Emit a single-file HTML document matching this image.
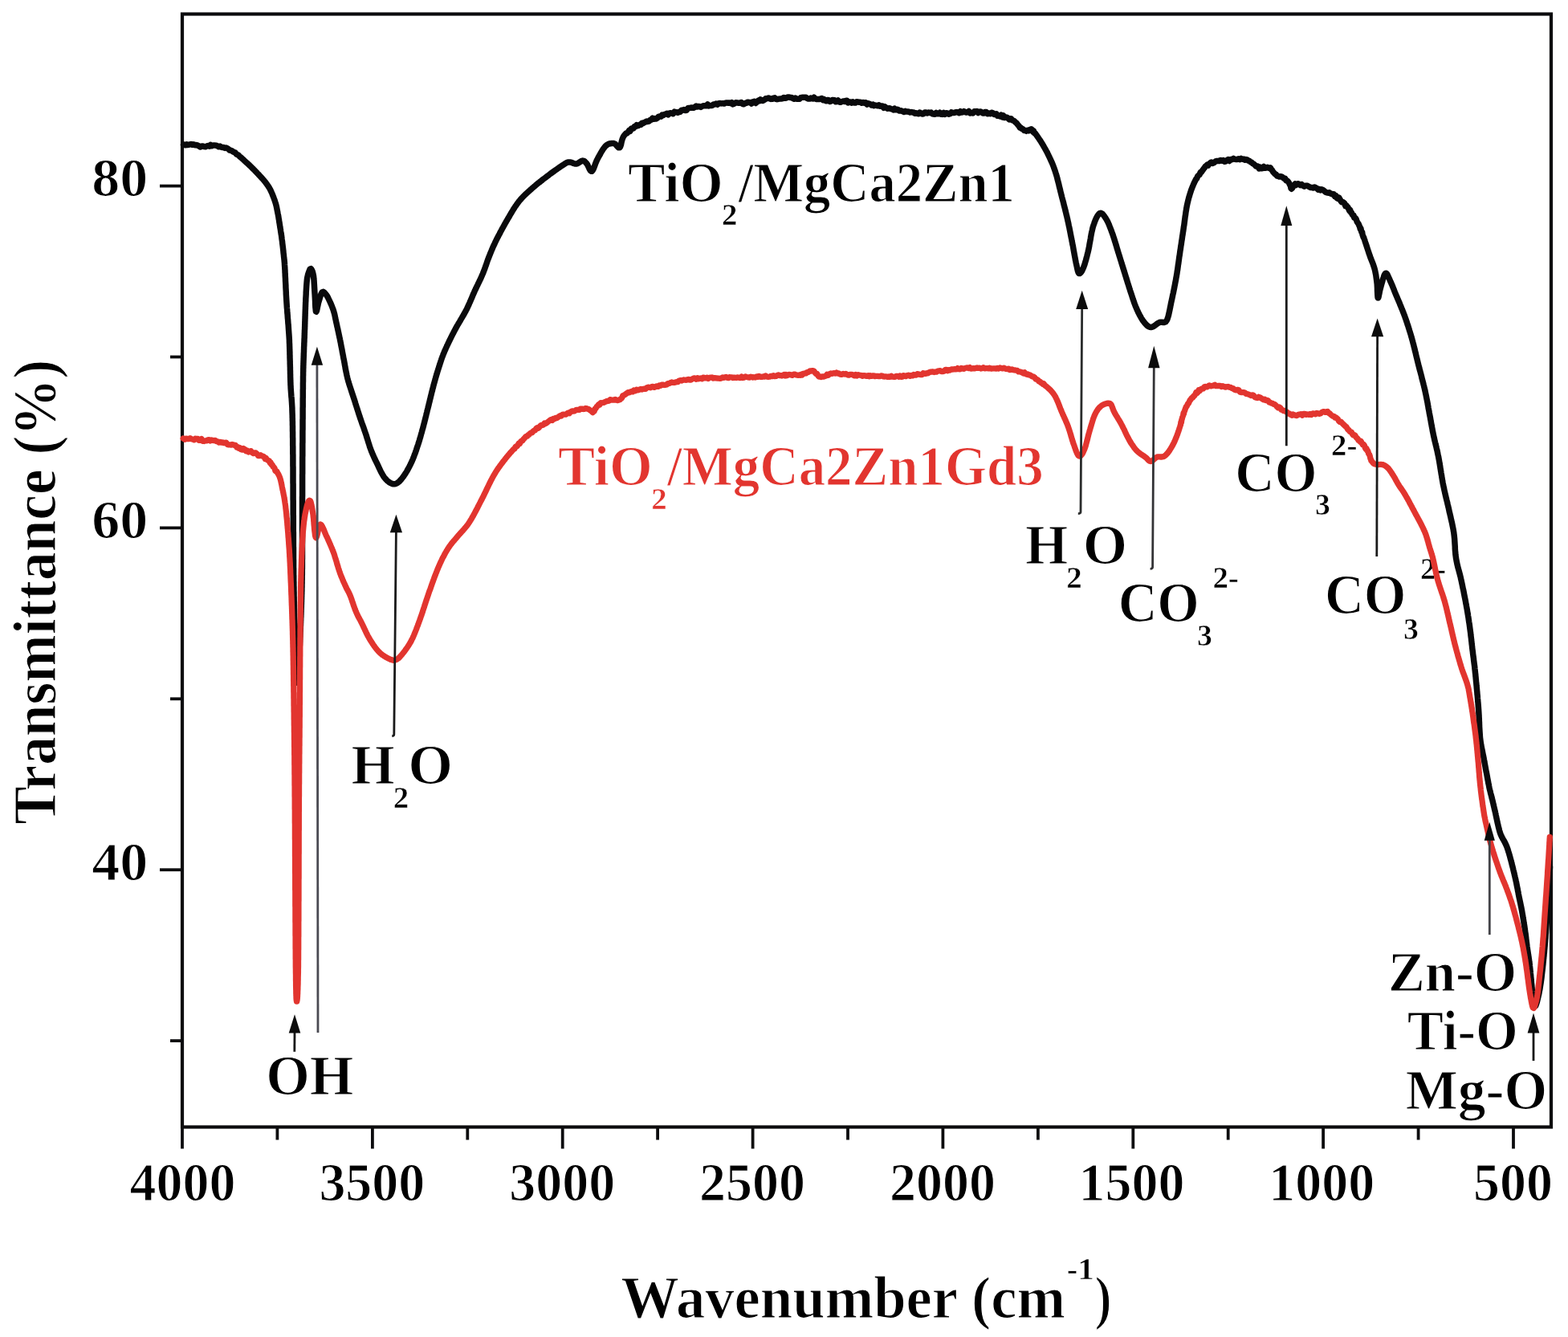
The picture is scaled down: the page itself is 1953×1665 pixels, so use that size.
<!DOCTYPE html>
<html><head><meta charset="utf-8"><title>FTIR spectra: TiO2/MgCa2Zn1 and TiO2/MgCa2Zn1Gd3</title>
<style>html,body{margin:0;padding:0;background:#fff;overflow:hidden}svg{display:block}</style>
</head><body>
<svg xmlns="http://www.w3.org/2000/svg" width="1953" height="1665" viewBox="0 0 1953 1665">
<rect x="0" y="0" width="1953" height="1665" fill="#fff"/>
<text transform="matrix(0.9700 0 0 1 161.53 1494.50)" font-size="68.0" fill="#000" stroke="#fff" stroke-width="1.2" style="font-family:'Liberation Serif',serif;font-weight:bold">4000</text>
<text transform="matrix(0.9700 0 0 1 397.40 1494.50)" font-size="68.0" fill="#000" stroke="#fff" stroke-width="1.2" style="font-family:'Liberation Serif',serif;font-weight:bold">3500</text>
<text transform="matrix(0.9700 0 0 1 634.25 1494.50)" font-size="68.0" fill="#000" stroke="#fff" stroke-width="1.2" style="font-family:'Liberation Serif',serif;font-weight:bold">3000</text>
<text transform="matrix(0.9700 0 0 1 871.11 1494.50)" font-size="68.0" fill="#000" stroke="#fff" stroke-width="1.2" style="font-family:'Liberation Serif',serif;font-weight:bold">2500</text>
<text transform="matrix(0.9700 0 0 1 1107.97 1494.50)" font-size="68.0" fill="#000" stroke="#fff" stroke-width="1.2" style="font-family:'Liberation Serif',serif;font-weight:bold">2000</text>
<text transform="matrix(0.9700 0 0 1 1343.51 1494.50)" font-size="68.0" fill="#000" stroke="#fff" stroke-width="1.2" style="font-family:'Liberation Serif',serif;font-weight:bold">1500</text>
<text transform="matrix(0.9700 0 0 1 1580.36 1494.50)" font-size="68.0" fill="#000" stroke="#fff" stroke-width="1.2" style="font-family:'Liberation Serif',serif;font-weight:bold">1000</text>
<text transform="matrix(0.9700 0 0 1 1835.03 1494.50)" font-size="68.0" fill="#000" stroke="#fff" stroke-width="1.2" style="font-family:'Liberation Serif',serif;font-weight:bold">500</text>
<text transform="matrix(1.0300 0 0 1 114.36 244.10)" font-size="68.0" fill="#000" stroke="#fff" stroke-width="1.2" style="font-family:'Liberation Serif',serif;font-weight:bold">80</text>
<text transform="matrix(1.0300 0 0 1 114.36 669.90)" font-size="68.0" fill="#000" stroke="#fff" stroke-width="1.2" style="font-family:'Liberation Serif',serif;font-weight:bold">60</text>
<text transform="matrix(1.0300 0 0 1 114.36 1095.70)" font-size="68.0" fill="#000" stroke="#fff" stroke-width="1.2" style="font-family:'Liberation Serif',serif;font-weight:bold">40</text>
<text transform="matrix(0.9955 0 0 1 773.27 1640.50)" font-size="73.0" fill="#000" stroke="#fff" stroke-width="1.2" style="font-family:'Liberation Serif',serif;font-weight:bold">Wavenumber (cm</text>
<text transform="matrix(1.1000 0 0 1 1328.87 1593.30)" font-size="37.0" fill="#000" stroke="#fff" stroke-width="0.5" style="font-family:'Liberation Serif',serif;font-weight:bold">-1</text>
<text transform="matrix(0.8500 0 0 1 1363.64 1640.50)" font-size="73.0" fill="#000" stroke="#fff" stroke-width="1.2" style="font-family:'Liberation Serif',serif;font-weight:bold">)</text>
<text transform="matrix(1.0101 0 0 1 782.01 251.00)" font-size="69.0" fill="#000" stroke="#fff" stroke-width="1.2" style="font-family:'Liberation Serif',serif;font-weight:bold">TiO</text>
<text transform="matrix(1.0500 0 0 1 898.95 280.40)" font-size="37.0" fill="#000" stroke="#fff" stroke-width="0.5" style="font-family:'Liberation Serif',serif;font-weight:bold">2</text>
<text transform="matrix(0.9653 0 0 1 919.67 251.00)" font-size="69.0" fill="#000" stroke="#fff" stroke-width="1.2" style="font-family:'Liberation Serif',serif;font-weight:bold">/MgCa2Zn1</text>
<text transform="matrix(1.0012 0 0 1 695.02 604.30)" font-size="69.0" fill="#e2352f" stroke="#fff" stroke-width="1.2" style="font-family:'Liberation Serif',serif;font-weight:bold">TiO</text>
<text transform="matrix(1.0500 0 0 1 811.15 634.00)" font-size="37.0" fill="#e2352f" stroke="#fff" stroke-width="0.5" style="font-family:'Liberation Serif',serif;font-weight:bold">2</text>
<text transform="matrix(0.9701 0 0 1 831.07 604.30)" font-size="69.0" fill="#e2352f" stroke="#fff" stroke-width="1.2" style="font-family:'Liberation Serif',serif;font-weight:bold">/MgCa2Zn1Gd3</text>
<text transform="matrix(1.0184 0 0 1 331.19 1363.00)" font-size="69.0" fill="#000" stroke="#fff" stroke-width="1.2" style="font-family:'Liberation Serif',serif;font-weight:bold">OH</text>
<text transform="matrix(1.0106 0 0 1 437.51 975.80)" font-size="69.0" fill="#000" stroke="#fff" stroke-width="1.2" style="font-family:'Liberation Serif',serif;font-weight:bold">H</text>
<text transform="matrix(1.0500 0 0 1 489.75 1005.80)" font-size="37.0" fill="#000" stroke="#fff" stroke-width="0.5" style="font-family:'Liberation Serif',serif;font-weight:bold">2</text>
<text transform="matrix(1.0401 0 0 1 508.21 975.80)" font-size="69.0" fill="#000" stroke="#fff" stroke-width="1.2" style="font-family:'Liberation Serif',serif;font-weight:bold">O</text>
<text transform="matrix(0.9929 0 0 1 1277.03 701.80)" font-size="69.0" fill="#000" stroke="#fff" stroke-width="1.2" style="font-family:'Liberation Serif',serif;font-weight:bold">H</text>
<text transform="matrix(1.0500 0 0 1 1328.35 732.10)" font-size="37.0" fill="#000" stroke="#fff" stroke-width="0.5" style="font-family:'Liberation Serif',serif;font-weight:bold">2</text>
<text transform="matrix(1.0315 0 0 1 1348.64 701.80)" font-size="69.0" fill="#000" stroke="#fff" stroke-width="1.2" style="font-family:'Liberation Serif',serif;font-weight:bold">O</text>
<text transform="matrix(0.9772 0 0 1 1392.63 773.90)" font-size="69.0" fill="#000" stroke="#fff" stroke-width="1.2" style="font-family:'Liberation Serif',serif;font-weight:bold">CO</text>
<text transform="matrix(1.0000 0 0 1 1491.22 803.50)" font-size="37.0" fill="#000" stroke="#fff" stroke-width="0.5" style="font-family:'Liberation Serif',serif;font-weight:bold">3</text>
<text transform="matrix(1.0500 0 0 1 1510.45 732.10)" font-size="37.0" fill="#000" stroke="#fff" stroke-width="0.5" style="font-family:'Liberation Serif',serif;font-weight:bold">2-</text>
<text transform="matrix(0.9876 0 0 1 1538.19 611.70)" font-size="69.0" fill="#000" stroke="#fff" stroke-width="1.2" style="font-family:'Liberation Serif',serif;font-weight:bold">CO</text>
<text transform="matrix(1.0000 0 0 1 1638.32 640.90)" font-size="37.0" fill="#000" stroke="#fff" stroke-width="0.5" style="font-family:'Liberation Serif',serif;font-weight:bold">3</text>
<text transform="matrix(1.0500 0 0 1 1658.05 567.00)" font-size="37.0" fill="#000" stroke="#fff" stroke-width="0.5" style="font-family:'Liberation Serif',serif;font-weight:bold">2-</text>
<text transform="matrix(0.9803 0 0 1 1649.92 763.80)" font-size="69.0" fill="#000" stroke="#fff" stroke-width="1.2" style="font-family:'Liberation Serif',serif;font-weight:bold">CO</text>
<text transform="matrix(1.0000 0 0 1 1748.22 795.90)" font-size="37.0" fill="#000" stroke="#fff" stroke-width="0.5" style="font-family:'Liberation Serif',serif;font-weight:bold">3</text>
<text transform="matrix(1.0500 0 0 1 1768.95 721.10)" font-size="37.0" fill="#000" stroke="#fff" stroke-width="0.5" style="font-family:'Liberation Serif',serif;font-weight:bold">2-</text>
<text transform="matrix(0.9956 0 0 1 1728.97 1234.30)" font-size="69.0" fill="#000" stroke="#fff" stroke-width="1.2" style="font-family:'Liberation Serif',serif;font-weight:bold">Zn-O</text>
<text transform="matrix(0.9836 0 0 1 1752.64 1306.80)" font-size="69.0" fill="#000" stroke="#fff" stroke-width="1.2" style="font-family:'Liberation Serif',serif;font-weight:bold">Ti-O</text>
<text transform="matrix(1.0005 0 0 1 1750.72 1381.30)" font-size="69.0" fill="#000" stroke="#fff" stroke-width="1.2" style="font-family:'Liberation Serif',serif;font-weight:bold">Mg-O</text>
<text transform="translate(69.30 1025.30) rotate(-90) scale(0.9385 1) translate(-1.52 0)" font-size="76.0" fill="#000" stroke="#fff" stroke-width="1.2" style="font-family:'Liberation Serif',serif;font-weight:bold">Transmittance (%)</text>
<rect x="227.0" y="17.5" width="1705.0" height="1386.0" fill="none" stroke="#0c0c0e" stroke-width="4.2"/>
<line x1="227.0" y1="1403.5" x2="227.0" y2="1430.5" stroke="#0c0c0e" stroke-width="3.8"/>
<line x1="345.4" y1="1403.5" x2="345.4" y2="1419.5" stroke="#0c0c0e" stroke-width="3.8"/>
<line x1="463.9" y1="1403.5" x2="463.9" y2="1430.5" stroke="#0c0c0e" stroke-width="3.8"/>
<line x1="582.3" y1="1403.5" x2="582.3" y2="1419.5" stroke="#0c0c0e" stroke-width="3.8"/>
<line x1="700.7" y1="1403.5" x2="700.7" y2="1430.5" stroke="#0c0c0e" stroke-width="3.8"/>
<line x1="819.1" y1="1403.5" x2="819.1" y2="1419.5" stroke="#0c0c0e" stroke-width="3.8"/>
<line x1="937.6" y1="1403.5" x2="937.6" y2="1430.5" stroke="#0c0c0e" stroke-width="3.8"/>
<line x1="1056.0" y1="1403.5" x2="1056.0" y2="1419.5" stroke="#0c0c0e" stroke-width="3.8"/>
<line x1="1174.4" y1="1403.5" x2="1174.4" y2="1430.5" stroke="#0c0c0e" stroke-width="3.8"/>
<line x1="1292.9" y1="1403.5" x2="1292.9" y2="1419.5" stroke="#0c0c0e" stroke-width="3.8"/>
<line x1="1411.3" y1="1403.5" x2="1411.3" y2="1430.5" stroke="#0c0c0e" stroke-width="3.8"/>
<line x1="1529.7" y1="1403.5" x2="1529.7" y2="1419.5" stroke="#0c0c0e" stroke-width="3.8"/>
<line x1="1648.1" y1="1403.5" x2="1648.1" y2="1430.5" stroke="#0c0c0e" stroke-width="3.8"/>
<line x1="1766.6" y1="1403.5" x2="1766.6" y2="1419.5" stroke="#0c0c0e" stroke-width="3.8"/>
<line x1="1885.0" y1="1403.5" x2="1885.0" y2="1430.5" stroke="#0c0c0e" stroke-width="3.8"/>
<line x1="227.0" y1="231.6" x2="199.0" y2="231.6" stroke="#0c0c0e" stroke-width="3.8"/>
<line x1="227.0" y1="444.5" x2="212.0" y2="444.5" stroke="#0c0c0e" stroke-width="3.8"/>
<line x1="227.0" y1="657.4" x2="199.0" y2="657.4" stroke="#0c0c0e" stroke-width="3.8"/>
<line x1="227.0" y1="870.3" x2="212.0" y2="870.3" stroke="#0c0c0e" stroke-width="3.8"/>
<line x1="227.0" y1="1083.2" x2="199.0" y2="1083.2" stroke="#0c0c0e" stroke-width="3.8"/>
<line x1="227.0" y1="1296.1" x2="212.0" y2="1296.1" stroke="#0c0c0e" stroke-width="3.8"/>
<path d="M228.5,180.4 L229.5,180.1 L230.8,180.8 L232.4,179.7 L234.2,180.4 L236.0,180.0 L237.8,179.5 L239.5,180.3 L241.1,179.8 L242.8,180.7 L244.4,180.6 L246.1,181.0 L247.8,181.9 L249.5,182.9 L251.2,181.9 L252.7,182.0 L254.3,182.6 L255.9,182.8 L257.5,182.0 L259.1,181.4 L260.7,182.2 L262.3,180.5 L263.8,181.8 L265.5,180.9 L267.3,180.9 L269.0,181.1 L270.7,181.7 L272.4,182.8 L274.0,182.1 L275.5,183.1 L277.2,183.6 L278.7,183.6 L280.2,184.4 L281.6,184.1 L283.1,184.7 L284.6,185.6 L286.0,187.0 L287.3,187.2 L288.7,187.7 L290.1,188.9 L291.5,189.5 L293.0,190.1 L294.5,192.0 L295.6,192.7 L296.8,192.9 L298.1,194.4 L299.3,195.5 L300.6,196.5 L301.9,197.7 L303.1,198.8 L304.3,199.9 L305.4,200.9 L306.5,201.9 L307.9,203.2 L309.2,204.3 L310.4,205.5 L311.5,206.6 L312.7,207.7 L313.8,208.8 L315.0,210.0 L316.1,211.1 L317.2,212.2 L318.3,213.4 L319.5,214.6 L320.6,215.8 L321.7,216.9 L322.8,218.1 L323.8,219.2 L324.9,220.4 L326.0,221.6 L327.1,222.8 L328.1,223.9 L329.1,225.1 L330.1,226.3 L331.0,227.5 L331.9,228.7 L332.8,230.0 L333.7,231.2 L334.5,232.5 L335.3,233.8 L336.1,235.1 L336.8,236.5 L337.5,237.9 L338.2,239.5 L338.9,241.0 L339.5,242.6 L340.1,244.1 L340.7,245.6 L341.2,247.0 L341.9,248.8 L342.4,250.4 L342.9,252.0 L343.4,253.5 L343.8,255.0 L344.2,256.5 L344.5,257.9 L344.8,259.4 L345.1,260.9 L345.4,262.4 L345.7,264.0 L346.0,265.7 L346.4,267.5 L346.7,269.2 L347.0,271.0 L347.2,272.5 L347.5,273.9 L347.7,275.4 L347.9,276.9 L348.2,278.4 L348.4,280.0 L348.7,281.6 L348.9,283.3 L349.2,284.9 L349.5,286.6 L349.7,288.3 L350.0,290.0 L350.2,291.6 L350.5,293.1 L350.7,294.6 L350.9,296.2 L351.1,298.0 L351.4,300.0 L351.6,301.4 L351.7,302.8 L351.9,304.3 L352.1,305.9 L352.3,307.6 L352.5,309.3 L352.7,311.0 L352.9,312.7 L353.0,314.4 L353.2,316.0 L353.4,317.5 L353.5,318.8 L353.6,320.0 L353.8,321.2 L353.9,322.5 L354.1,323.9 L354.2,325.5 L354.4,327.4 L354.5,329.7 L354.7,332.4 L354.8,333.5 L354.8,334.7 L354.9,335.9 L355.0,337.2 L355.0,338.5 L355.1,339.9 L355.2,341.3 L355.2,342.8 L355.3,344.3 L355.4,345.9 L355.5,347.5 L355.5,349.1 L355.6,350.7 L355.7,352.4 L355.8,354.0 L355.9,355.7 L355.9,357.4 L356.0,359.1 L356.1,360.8 L356.2,362.6 L356.3,364.3 L356.3,365.9 L356.4,367.6 L356.5,369.3 L356.6,370.9 L356.7,372.5 L356.8,374.1 L356.9,375.7 L357.0,377.3 L357.1,378.8 L357.2,380.4 L357.3,382.0 L357.4,383.6 L357.6,385.2 L357.7,386.8 L357.8,388.4 L357.9,390.0 L358.1,391.6 L358.2,393.2 L358.3,394.8 L358.4,396.4 L358.6,398.0 L358.7,399.6 L358.8,401.1 L358.9,402.7 L359.1,404.3 L359.2,405.8 L359.3,407.3 L359.4,408.9 L359.5,410.4 L359.6,411.8 L359.7,413.3 L359.8,414.7 L359.9,416.1 L360.0,417.5 L360.1,418.9 L360.2,420.7 L360.3,422.4 L360.4,424.1 L360.4,425.8 L360.5,427.5 L360.6,429.1 L360.6,430.7 L360.7,432.2 L360.7,433.8 L360.8,435.3 L360.8,436.8 L360.9,438.3 L360.9,439.8 L360.9,441.3 L361.0,442.7 L361.0,444.2 L361.0,445.6 L361.1,447.1 L361.1,448.5 L361.2,449.9 L361.2,451.4 L361.2,453.0 L361.3,454.6 L361.3,456.1 L361.4,457.6 L361.4,459.1 L361.4,460.6 L361.5,462.1 L361.5,463.5 L361.5,465.0 L361.6,466.5 L361.6,467.9 L361.6,469.4 L361.7,470.9 L361.7,472.3 L361.8,473.8 L361.8,475.3 L361.9,476.9 L361.9,478.4 L362.0,480.0 L362.1,481.4 L362.1,482.8 L362.2,484.3 L362.3,485.6 L362.4,487.0 L362.5,488.4 L362.6,489.8 L362.7,491.2 L362.8,492.6 L362.9,494.1 L363.1,495.5 L363.2,497.0 L363.3,498.5 L363.4,500.0 L363.5,501.6 L363.6,503.2 L363.7,504.9 L363.8,506.6 L363.9,508.3 L363.9,510.1 L364.0,512.0 L364.0,513.3 L364.1,514.5 L364.1,515.8 L364.2,517.1 L364.2,518.4 L364.2,519.7 L364.3,521.0 L364.3,522.3 L364.3,523.7 L364.4,525.0 L364.4,526.4 L364.4,527.8 L364.4,529.2 L364.5,530.6 L364.5,532.0 L364.5,533.5 L364.5,535.0 L364.5,536.5 L364.6,538.0 L364.6,539.5 L364.6,541.1 L364.6,542.7 L364.6,544.3 L364.7,545.9 L364.7,547.6 L364.7,549.3 L364.7,551.0 L364.7,552.7 L364.7,554.5 L364.8,556.3 L364.8,558.1 L364.8,560.0 L364.8,561.3 L364.8,562.5 L364.8,563.8 L364.8,565.1 L364.9,566.4 L364.9,567.7 L364.9,569.1 L364.9,570.4 L364.9,571.8 L364.9,573.2 L364.9,574.5 L364.9,575.9 L364.9,577.3 L364.9,578.8 L364.9,580.2 L365.0,581.6 L365.0,583.1 L365.0,584.5 L365.0,586.0 L365.0,587.5 L365.0,589.0 L365.0,590.5 L365.0,592.0 L365.0,593.5 L365.0,595.0 L365.0,596.6 L365.0,598.1 L365.0,599.7 L365.0,601.2 L365.1,602.8 L365.1,604.3 L365.1,605.9 L365.1,607.5 L365.1,609.1 L365.1,610.7 L365.1,612.3 L365.1,613.9 L365.1,615.5 L365.1,617.2 L365.1,618.8 L365.1,620.4 L365.1,622.1 L365.2,623.7 L365.2,625.4 L365.2,627.0 L365.2,628.7 L365.2,630.3 L365.2,632.0 L365.2,633.4 L365.2,634.8 L365.2,636.2 L365.2,637.6 L365.2,639.0 L365.2,640.5 L365.3,641.9 L365.3,643.4 L365.3,644.9 L365.3,646.3 L365.3,647.8 L365.3,649.3 L365.3,650.8 L365.3,652.3 L365.3,653.8 L365.3,655.3 L365.3,656.9 L365.3,658.4 L365.3,659.9 L365.3,661.5 L365.4,663.0 L365.4,664.6 L365.4,666.1 L365.4,667.7 L365.4,669.2 L365.4,670.8 L365.4,672.4 L365.4,673.9 L365.4,675.5 L365.4,677.1 L365.4,678.6 L365.4,680.2 L365.5,681.8 L365.5,683.4 L365.5,684.9 L365.5,686.5 L365.5,688.1 L365.5,689.6 L365.5,691.2 L365.5,692.7 L365.5,694.3 L365.5,695.9 L365.6,697.4 L365.6,699.0 L365.6,700.5 L365.6,702.0 L365.6,703.6 L365.6,705.1 L365.6,706.6 L365.7,708.1 L365.7,709.7 L365.7,711.2 L365.7,712.6 L365.7,714.1 L365.7,715.6 L365.8,717.1 L365.8,718.5 L365.8,720.0 L365.8,721.6 L365.8,723.2 L365.9,724.8 L365.9,726.4 L365.9,728.0 L365.9,729.6 L366.0,731.2 L366.0,732.8 L366.0,734.4 L366.0,736.0 L366.1,737.6 L366.1,739.3 L366.1,740.9 L366.1,742.5 L366.2,744.1 L366.2,745.7 L366.2,747.3 L366.3,748.9 L366.3,750.5 L366.3,752.1 L366.4,753.7 L366.4,755.3 L366.4,756.9 L366.5,758.5 L366.5,760.0 L366.5,761.6 L366.5,763.2 L366.6,764.7 L366.6,766.3 L366.6,767.8 L366.7,769.3 L366.7,770.8 L366.8,772.4 L366.8,773.9 L366.8,775.4 L366.9,776.8 L366.9,778.3 L366.9,779.8 L367.0,781.2 L367.0,782.7 L367.0,784.1 L367.1,785.5 L367.1,786.9 L367.2,788.3 L367.2,789.6 L367.2,791.0 L367.3,792.3 L367.3,793.6 L367.3,795.0 L367.4,796.2 L367.4,797.5 L367.5,798.8 L367.5,800.0 L367.6,802.0 L367.6,804.0 L367.7,806.0 L367.8,808.1 L367.8,810.2 L367.9,812.3 L368.0,814.4 L368.0,816.4 L368.1,818.5 L368.2,820.6 L368.2,822.6 L368.3,824.6 L368.4,826.6 L368.5,828.5 L368.5,830.4 L368.6,832.2 L368.7,834.0 L368.8,835.7 L368.8,837.4 L368.9,838.9 L369.0,840.4 L369.1,841.9 L369.1,843.2 L369.2,844.4 L369.3,845.5 L369.4,846.5 L369.5,847.4 L369.6,848.2 L369.6,848.8 L369.7,849.3 L369.8,849.7 L369.9,849.9 L370.0,850.0 L370.1,849.9 L370.2,849.7 L370.3,849.3 L370.4,848.8 L370.5,848.2 L370.6,847.4 L370.7,846.5 L370.8,845.5 L370.9,844.4 L371.0,843.2 L371.1,841.9 L371.2,840.4 L371.3,838.9 L371.5,837.4 L371.6,835.7 L371.7,834.0 L371.8,832.2 L371.9,830.4 L372.0,828.5 L372.1,826.6 L372.2,824.6 L372.4,822.6 L372.5,820.6 L372.6,818.5 L372.7,816.4 L372.8,814.4 L372.9,812.3 L373.0,810.2 L373.1,808.1 L373.2,806.0 L373.3,804.0 L373.4,802.0 L373.5,800.0 L373.6,798.8 L373.6,797.5 L373.7,796.2 L373.7,795.0 L373.8,793.6 L373.9,792.3 L373.9,791.0 L374.0,789.6 L374.0,788.3 L374.1,786.9 L374.2,785.5 L374.2,784.1 L374.3,782.7 L374.3,781.2 L374.4,779.8 L374.5,778.3 L374.5,776.8 L374.6,775.4 L374.6,773.9 L374.7,772.4 L374.7,770.8 L374.8,769.3 L374.9,767.8 L374.9,766.3 L375.0,764.7 L375.0,763.2 L375.1,761.6 L375.1,760.0 L375.2,758.5 L375.2,756.9 L375.3,755.3 L375.3,753.7 L375.4,752.1 L375.4,750.5 L375.5,748.9 L375.5,747.3 L375.6,745.7 L375.6,744.1 L375.7,742.5 L375.7,740.9 L375.8,739.3 L375.8,737.6 L375.9,736.0 L375.9,734.4 L375.9,732.8 L376.0,731.2 L376.0,729.6 L376.0,728.0 L376.1,726.4 L376.1,724.8 L376.1,723.2 L376.2,721.6 L376.2,720.0 L376.2,718.5 L376.2,717.1 L376.3,715.6 L376.3,714.1 L376.3,712.6 L376.3,711.2 L376.3,709.7 L376.4,708.1 L376.4,706.6 L376.4,705.1 L376.4,703.6 L376.4,702.0 L376.4,700.5 L376.4,699.0 L376.4,697.4 L376.5,695.9 L376.5,694.3 L376.5,692.7 L376.5,691.2 L376.5,689.6 L376.5,688.1 L376.5,686.5 L376.5,684.9 L376.5,683.4 L376.5,681.8 L376.5,680.2 L376.5,678.6 L376.5,677.1 L376.5,675.5 L376.5,673.9 L376.5,672.4 L376.5,670.8 L376.5,669.2 L376.5,667.7 L376.5,666.1 L376.5,664.6 L376.5,663.0 L376.5,661.5 L376.5,659.9 L376.5,658.4 L376.5,656.9 L376.5,655.3 L376.5,653.8 L376.5,652.3 L376.5,650.8 L376.5,649.3 L376.5,647.8 L376.5,646.3 L376.5,644.9 L376.5,643.4 L376.5,641.9 L376.5,640.5 L376.5,639.0 L376.5,637.6 L376.5,636.2 L376.5,634.8 L376.5,633.4 L376.5,632.0 L376.5,630.3 L376.5,628.7 L376.5,627.1 L376.5,625.5 L376.5,623.9 L376.5,622.3 L376.5,620.7 L376.5,619.2 L376.6,617.6 L376.6,616.1 L376.6,614.6 L376.6,613.1 L376.6,611.6 L376.6,610.1 L376.6,608.6 L376.6,607.1 L376.6,605.6 L376.6,604.2 L376.6,602.7 L376.6,601.3 L376.6,599.8 L376.6,598.4 L376.6,596.9 L376.6,595.5 L376.6,594.1 L376.6,592.6 L376.6,591.2 L376.7,589.8 L376.7,588.3 L376.7,586.9 L376.7,585.4 L376.7,584.0 L376.7,582.6 L376.7,581.1 L376.7,579.6 L376.7,578.2 L376.7,576.7 L376.7,575.2 L376.7,573.8 L376.7,572.3 L376.7,570.8 L376.7,569.3 L376.8,567.8 L376.8,566.2 L376.8,564.7 L376.8,563.1 L376.8,561.6 L376.8,560.0 L376.8,558.6 L376.8,557.1 L376.8,555.6 L376.8,554.1 L376.8,552.6 L376.9,551.0 L376.9,549.4 L376.9,547.9 L376.9,546.3 L376.9,544.7 L376.9,543.0 L376.9,541.4 L376.9,539.8 L376.9,538.1 L376.9,536.5 L377.0,534.8 L377.0,533.1 L377.0,531.5 L377.0,529.8 L377.0,528.1 L377.0,526.5 L377.0,524.8 L377.0,523.1 L377.1,521.5 L377.1,519.8 L377.1,518.1 L377.1,516.5 L377.1,514.8 L377.1,513.2 L377.1,511.6 L377.1,510.0 L377.1,508.4 L377.2,506.8 L377.2,505.2 L377.2,503.7 L377.2,502.2 L377.2,500.7 L377.2,499.2 L377.2,497.7 L377.2,496.2 L377.3,494.8 L377.3,493.4 L377.3,492.0 L377.3,490.7 L377.3,489.4 L377.3,488.1 L377.3,486.8 L377.3,485.6 L377.4,484.4 L377.4,483.3 L377.4,482.1 L377.4,481.0 L377.4,480.0 L377.4,477.3 L377.5,474.9 L377.5,472.7 L377.5,470.8 L377.5,469.1 L377.6,467.5 L377.6,466.2 L377.6,464.9 L377.6,463.7 L377.7,462.6 L377.7,461.6 L377.7,460.5 L377.7,459.5 L377.8,458.3 L377.8,457.1 L377.8,455.8 L377.9,454.4 L377.9,452.8 L378.0,451.0 L378.0,449.7 L378.1,448.3 L378.1,446.9 L378.2,445.5 L378.2,444.0 L378.3,442.5 L378.3,441.0 L378.4,439.4 L378.5,437.8 L378.5,436.2 L378.6,434.6 L378.6,433.0 L378.7,431.3 L378.8,429.7 L378.8,428.0 L378.9,426.4 L379.0,424.8 L379.0,423.1 L379.1,421.5 L379.2,419.9 L379.2,418.3 L379.3,416.7 L379.3,415.2 L379.4,413.7 L379.4,412.2 L379.5,410.8 L379.6,409.4 L379.6,408.0 L379.7,406.2 L379.7,404.5 L379.8,402.8 L379.8,401.1 L379.9,399.5 L379.9,397.9 L380.0,396.3 L380.0,394.8 L380.1,393.3 L380.1,391.7 L380.2,390.3 L380.2,388.8 L380.3,387.3 L380.3,385.9 L380.4,384.5 L380.4,383.0 L380.5,381.6 L380.5,380.2 L380.6,378.8 L380.6,377.4 L380.7,376.0 L380.8,374.4 L380.8,372.7 L380.9,371.0 L381.0,369.4 L381.1,367.7 L381.2,366.0 L381.2,364.4 L381.3,362.8 L381.4,361.2 L381.5,359.6 L381.6,358.1 L381.7,356.6 L381.8,355.2 L381.9,353.8 L382.0,352.5 L382.1,351.3 L382.2,350.1 L382.3,349.0 L382.6,346.5 L383.0,344.5 L383.4,342.8 L383.8,341.3 L384.2,340.1 L384.6,339.0 L385.0,338.0 L386.1,335.1 L387.2,334.6 L387.8,335.3 L388.5,336.5 L389.2,338.1 L389.8,340.3 L390.4,343.0 L390.6,344.2 L390.7,345.4 L390.8,346.8 L391.0,348.3 L391.1,349.8 L391.2,351.4 L391.3,353.1 L391.4,354.8 L391.5,356.5 L391.6,358.2 L391.7,360.0 L391.8,361.7 L391.9,363.4 L392.0,365.0 L392.1,366.6 L392.2,368.3 L392.3,370.1 L392.4,372.0 L392.5,373.9 L392.6,375.8 L392.6,377.7 L392.7,379.5 L392.8,381.3 L392.9,382.9 L393.1,384.4 L393.2,385.6 L393.3,386.7 L393.4,387.5 L393.6,388.0 L393.9,388.2 L394.3,387.5 L394.7,386.1 L395.1,384.2 L395.5,382.0 L396.0,379.8 L396.4,377.7 L396.9,376.0 L397.4,374.4 L397.9,372.7 L398.4,370.9 L399.0,369.1 L399.5,367.5 L400.1,366.0 L400.7,364.8 L401.2,364.0 L402.6,363.4 L404.1,364.4 L405.5,366.0 L406.4,367.1 L407.2,368.3 L408.1,369.8 L409.0,371.6 L409.9,373.5 L410.5,374.7 L411.1,376.0 L411.7,377.4 L412.4,378.9 L413.0,380.4 L413.6,381.9 L414.2,383.5 L414.8,385.0 L415.3,386.5 L415.7,387.9 L416.1,389.3 L416.5,390.6 L416.8,391.9 L417.1,393.3 L417.4,394.8 L417.7,396.4 L418.1,398.1 L418.5,400.0 L418.8,401.3 L419.1,402.6 L419.4,404.0 L419.7,405.4 L420.0,406.9 L420.4,408.4 L420.7,410.0 L421.1,411.6 L421.4,413.2 L421.8,414.8 L422.1,416.5 L422.5,418.1 L422.8,419.8 L423.2,421.4 L423.5,423.0 L423.8,424.4 L424.1,425.9 L424.4,427.3 L424.6,428.8 L424.9,430.3 L425.2,431.7 L425.5,433.2 L425.8,434.7 L426.1,436.2 L426.3,437.7 L426.6,439.2 L426.9,440.7 L427.2,442.2 L427.5,443.7 L427.7,445.2 L428.0,446.6 L428.3,448.1 L428.6,449.6 L428.9,451.2 L429.2,452.7 L429.4,454.2 L429.7,455.7 L430.0,457.2 L430.2,458.7 L430.5,460.2 L430.8,461.7 L431.1,463.1 L431.4,464.6 L431.7,466.1 L432.0,467.6 L432.4,469.1 L432.7,470.6 L433.1,472.1 L433.5,473.6 L433.9,475.1 L434.4,476.6 L434.8,478.1 L435.3,479.6 L435.8,481.1 L436.3,482.6 L436.8,484.1 L437.3,485.7 L437.8,487.2 L438.3,488.7 L438.8,490.2 L439.3,491.7 L439.8,493.2 L440.3,494.7 L440.8,496.2 L441.3,497.7 L441.8,499.2 L442.3,500.8 L442.7,502.3 L443.2,503.9 L443.7,505.4 L444.2,507.0 L444.7,508.5 L445.2,510.0 L445.7,511.6 L446.2,513.1 L446.6,514.5 L447.1,516.0 L447.6,517.4 L448.0,518.8 L448.5,520.2 L449.0,521.8 L449.6,523.4 L450.1,524.9 L450.6,526.4 L451.1,527.9 L451.7,529.3 L452.2,530.7 L452.7,532.1 L453.2,533.5 L453.7,535.0 L454.2,536.4 L454.7,537.9 L455.2,539.4 L455.7,540.8 L456.2,542.3 L456.6,543.8 L457.1,545.3 L457.6,546.9 L458.1,548.4 L458.5,549.9 L459.0,551.4 L459.5,552.9 L460.0,554.4 L460.4,555.9 L460.9,557.3 L461.4,558.7 L461.9,560.0 L462.5,561.6 L463.1,563.1 L463.7,564.5 L464.3,565.9 L464.9,567.2 L465.5,568.6 L466.1,569.9 L466.7,571.3 L467.4,572.7 L468.1,574.1 L468.9,575.7 L469.5,577.0 L470.2,578.4 L470.9,579.9 L471.6,581.4 L472.3,583.0 L473.1,584.6 L473.8,586.1 L474.6,587.7 L475.4,589.2 L476.2,590.6 L477.0,592.0 L477.8,593.3 L478.6,594.5 L479.4,595.5 L480.7,596.9 L482.0,598.3 L483.3,599.4 L484.7,600.5 L486.0,601.3 L487.4,602.0 L488.7,602.5 L490.0,602.8 L491.3,602.8 L492.5,602.6 L493.7,602.1 L494.9,601.5 L496.1,600.6 L497.3,599.6 L498.4,598.4 L499.6,597.1 L500.7,595.7 L501.9,594.2 L502.7,593.2 L503.4,592.1 L504.2,590.9 L505.0,589.7 L505.8,588.4 L506.6,587.1 L507.4,585.7 L508.1,584.3 L508.9,582.9 L509.7,581.5 L510.4,580.0 L511.1,578.6 L511.8,577.1 L512.5,575.7 L513.1,574.4 L513.7,573.0 L514.3,571.7 L514.8,570.3 L515.4,568.9 L515.9,567.5 L516.4,566.1 L517.0,564.7 L517.5,563.3 L518.0,561.8 L518.5,560.4 L518.9,559.0 L519.4,557.5 L519.9,556.1 L520.4,554.6 L520.9,553.1 L521.3,551.7 L521.8,550.2 L522.3,548.8 L522.7,547.3 L523.1,545.8 L523.6,544.4 L524.0,542.9 L524.4,541.4 L524.8,539.9 L525.3,538.3 L525.7,536.8 L526.1,535.2 L526.6,533.6 L527.0,532.0 L527.4,530.6 L527.7,529.2 L528.1,527.8 L528.5,526.4 L528.8,525.0 L529.2,523.5 L529.6,522.0 L529.9,520.6 L530.3,519.1 L530.7,517.6 L531.0,516.1 L531.4,514.6 L531.8,513.1 L532.1,511.6 L532.5,510.1 L532.9,508.6 L533.2,507.2 L533.6,505.7 L534.0,504.2 L534.3,502.7 L534.7,501.3 L535.1,499.8 L535.4,498.3 L535.8,496.8 L536.2,495.3 L536.5,493.8 L536.9,492.3 L537.3,490.8 L537.6,489.3 L538.0,487.8 L538.4,486.4 L538.7,484.9 L539.1,483.5 L539.5,482.1 L539.8,480.7 L540.2,479.3 L540.6,477.7 L541.1,476.1 L541.5,474.5 L542.0,472.9 L542.4,471.4 L542.8,469.8 L543.3,468.3 L543.7,466.8 L544.2,465.3 L544.6,463.9 L545.0,462.4 L545.5,461.0 L545.9,459.6 L546.4,458.2 L546.8,456.8 L547.3,455.3 L547.8,453.8 L548.2,452.4 L548.7,451.0 L549.1,449.6 L549.6,448.3 L550.0,446.9 L550.5,445.6 L551.0,444.2 L551.6,442.8 L552.1,441.3 L552.8,439.7 L553.5,438.0 L554.0,436.8 L554.6,435.6 L555.1,434.3 L555.7,433.0 L556.3,431.7 L556.9,430.3 L557.6,429.0 L558.2,427.6 L558.9,426.2 L559.6,424.7 L560.3,423.3 L561.0,421.9 L561.7,420.5 L562.4,419.0 L563.1,417.6 L563.8,416.2 L564.6,414.8 L565.3,413.4 L566.0,412.0 L566.7,410.7 L567.4,409.4 L568.1,408.1 L568.9,406.7 L569.6,405.4 L570.4,404.1 L571.2,402.7 L572.0,401.4 L572.8,400.1 L573.5,398.8 L574.3,397.4 L575.1,396.1 L575.9,394.8 L576.6,393.5 L577.4,392.2 L578.1,390.9 L578.8,389.6 L579.5,388.4 L580.2,387.1 L580.8,385.9 L581.6,384.4 L582.3,382.9 L583.0,381.4 L583.7,379.9 L584.3,378.5 L585.0,377.0 L585.6,375.6 L586.2,374.2 L586.8,372.8 L587.4,371.4 L588.0,370.0 L588.6,368.6 L589.1,367.2 L589.8,365.8 L590.4,364.4 L591.0,363.0 L591.6,361.6 L592.3,360.2 L593.0,358.8 L593.6,357.4 L594.3,356.0 L595.0,354.6 L595.6,353.3 L596.3,351.9 L597.0,350.5 L597.6,349.1 L598.3,347.8 L598.9,346.4 L599.5,345.1 L600.1,343.7 L600.7,342.3 L601.3,341.0 L601.9,339.5 L602.5,337.9 L603.1,336.4 L603.7,334.9 L604.2,333.4 L604.7,331.9 L605.3,330.4 L605.8,328.9 L606.3,327.4 L606.8,325.9 L607.3,324.4 L607.9,322.9 L608.4,321.5 L609.0,320.0 L609.6,318.6 L610.1,317.2 L610.7,315.8 L611.2,314.4 L611.8,313.1 L612.3,311.7 L612.9,310.4 L613.5,309.0 L614.1,307.6 L614.7,306.2 L615.4,304.8 L616.1,303.3 L616.8,301.7 L617.6,300.1 L618.2,298.9 L618.8,297.7 L619.4,296.4 L620.1,295.2 L620.8,293.8 L621.5,292.5 L622.2,291.2 L622.9,289.8 L623.6,288.4 L624.4,287.0 L625.1,285.6 L625.9,284.2 L626.7,282.8 L627.4,281.5 L628.2,280.1 L628.9,278.7 L629.7,277.4 L630.4,276.1 L631.2,274.8 L631.9,273.6 L632.7,272.2 L633.6,270.7 L634.4,269.3 L635.2,267.9 L636.0,266.5 L636.9,265.1 L637.7,263.7 L638.5,262.4 L639.3,261.0 L640.2,259.7 L641.0,258.4 L641.8,257.1 L642.7,255.9 L643.6,254.6 L644.4,253.4 L645.3,252.3 L646.2,251.1 L647.2,249.8 L648.2,248.6 L649.3,247.4 L650.3,246.3 L651.3,245.2 L652.4,244.1 L653.4,243.1 L654.5,242.1 L655.6,241.0 L656.7,240.0 L657.8,239.0 L658.9,238.0 L660.1,236.9 L661.3,235.9 L662.5,234.8 L663.6,233.8 L664.7,232.9 L665.9,231.9 L667.0,230.9 L668.2,229.9 L669.4,228.9 L670.6,227.9 L671.9,227.0 L673.1,226.0 L674.4,225.0 L675.6,224.0 L676.8,223.1 L678.1,222.1 L679.3,221.2 L680.6,220.2 L681.8,219.3 L683.0,218.4 L684.3,217.4 L685.6,216.4 L687.0,215.4 L688.4,214.4 L689.8,213.4 L691.3,212.3 L692.7,211.3 L694.1,210.4 L695.4,209.4 L696.8,208.5 L698.0,207.6 L699.3,206.8 L700.4,206.0 L701.5,205.3 L702.5,204.7 L703.4,204.1 L706.0,202.6 L707.5,202.0 L708.6,201.9 L710.0,202.0 L711.5,202.2 L713.0,202.8 L714.5,203.5 L716.1,204.0 L717.7,204.1 L719.1,203.7 L720.5,202.9 L721.9,202.0 L723.3,201.1 L724.6,200.4 L725.8,200.1 L727.3,200.4 L728.5,201.2 L729.7,202.5 L731.0,204.0 L731.8,205.3 L732.6,207.0 L733.5,208.9 L734.4,210.8 L735.3,212.3 L736.2,213.2 L737.1,213.3 L737.7,212.8 L738.3,212.0 L738.9,210.9 L739.5,209.6 L740.1,208.1 L740.7,206.4 L741.3,204.7 L742.0,202.9 L742.7,201.2 L743.4,199.5 L744.2,198.0 L744.9,196.6 L745.7,195.2 L746.5,193.7 L747.4,192.2 L748.2,190.6 L749.1,189.1 L750.0,187.6 L750.9,186.2 L751.8,184.9 L752.7,183.7 L753.5,182.6 L754.4,181.7 L755.9,180.5 L757.4,179.6 L758.9,179.0 L760.4,178.7 L761.9,178.5 L763.3,178.5 L764.6,178.6 L766.3,179.4 L767.8,181.0 L769.2,182.7 L770.5,183.8 L771.8,183.7 L772.4,183.0 L772.8,182.0 L773.3,180.7 L773.7,179.2 L774.0,177.5 L774.4,175.8 L774.9,174.0 L775.5,172.3 L776.1,170.8 L776.9,169.4 L777.8,168.2 L778.8,167.1 L779.9,166.0 L781.1,165.9 L782.3,164.5 L783.6,162.4 L784.9,163.2 L786.3,160.0 L787.7,159.9 L789.1,159.9 L790.3,157.5 L791.5,157.7 L792.8,155.8 L794.1,156.7 L795.4,156.3 L796.8,155.2 L798.2,155.3 L799.6,153.2 L801.0,153.5 L802.5,152.6 L804.0,151.9 L805.5,151.0 L806.8,151.4 L808.3,151.1 L809.7,149.4 L811.2,149.3 L812.7,147.2 L814.3,148.3 L815.8,147.6 L817.4,148.0 L818.9,147.0 L820.4,145.1 L821.9,144.9 L823.3,145.2 L824.6,143.1 L825.9,143.8 L827.7,142.5 L829.3,141.9 L830.8,141.3 L832.3,142.8 L833.7,140.9 L835.1,140.8 L836.6,140.9 L838.2,141.7 L840.0,139.2 L841.3,139.8 L842.8,139.7 L844.2,140.2 L845.7,139.6 L847.3,139.3 L848.8,137.3 L850.4,137.2 L852.0,136.6 L853.7,137.6 L855.3,137.3 L856.9,134.8 L858.4,134.5 L860.0,134.3 L861.5,134.0 L862.9,134.3 L864.4,134.2 L865.7,133.1 L867.1,132.1 L868.5,132.9 L869.9,132.4 L871.4,132.7 L872.9,133.4 L874.5,132.4 L876.2,131.7 L878.0,131.7 L880.0,131.7 L881.3,129.9 L882.7,131.9 L884.1,131.5 L885.6,131.6 L887.1,131.3 L888.7,130.1 L890.3,130.0 L891.9,129.1 L893.6,130.3 L895.3,128.7 L897.0,128.6 L898.6,128.9 L900.3,128.7 L902.0,129.0 L903.7,128.2 L905.3,127.9 L906.9,128.2 L908.4,128.0 L909.9,128.6 L911.4,127.6 L912.8,129.8 L914.6,129.0 L916.4,127.7 L918.1,127.9 L919.8,128.2 L921.5,128.2 L923.2,127.5 L924.8,129.4 L926.4,129.8 L927.9,128.4 L929.4,128.4 L930.9,127.3 L932.3,127.3 L933.7,127.9 L935.0,127.6 L936.2,129.0 L937.4,127.1 L939.5,126.4 L941.4,128.4 L943.0,126.8 L944.4,125.3 L945.8,125.8 L947.1,123.9 L948.3,124.8 L949.7,125.5 L951.3,124.8 L952.5,124.1 L953.7,122.7 L955.1,122.7 L957.1,122.0 L960.0,123.4 L961.1,122.7 L962.3,123.3 L963.6,122.1 L964.9,121.8 L966.4,123.3 L967.9,123.7 L969.5,123.3 L971.1,123.1 L972.8,123.1 L974.5,122.9 L976.2,121.5 L977.9,122.3 L979.6,121.8 L981.3,121.0 L983.0,120.9 L984.6,121.6 L986.2,121.5 L987.8,122.6 L989.3,123.3 L990.7,122.0 L992.4,123.2 L994.1,123.3 L995.8,123.2 L997.4,121.7 L999.0,121.3 L1000.6,121.3 L1002.2,121.2 L1003.8,121.3 L1005.3,122.4 L1006.8,123.1 L1008.3,123.0 L1009.7,122.1 L1011.2,122.6 L1012.6,123.0 L1013.9,121.2 L1015.3,122.8 L1017.1,123.6 L1018.7,123.5 L1020.3,123.6 L1021.9,123.2 L1023.4,122.6 L1024.9,124.5 L1026.3,123.6 L1027.8,125.1 L1029.2,125.8 L1030.7,124.5 L1032.2,124.8 L1033.7,126.4 L1035.2,125.9 L1036.7,124.6 L1038.1,124.6 L1039.5,124.8 L1040.9,126.8 L1042.4,126.6 L1043.8,125.0 L1045.3,126.8 L1046.9,127.3 L1048.6,126.6 L1050.3,125.9 L1052.2,126.5 L1053.5,125.5 L1054.9,125.3 L1056.3,127.9 L1057.7,127.2 L1059.2,126.9 L1060.7,128.1 L1062.2,126.9 L1063.7,128.1 L1065.3,128.1 L1066.9,126.7 L1068.5,126.9 L1070.1,127.2 L1071.8,127.2 L1073.4,128.2 L1075.1,127.6 L1076.7,128.2 L1078.4,127.7 L1080.0,130.0 L1081.4,128.8 L1082.8,129.3 L1084.3,129.9 L1085.7,131.0 L1087.2,130.1 L1088.7,131.7 L1090.1,131.0 L1091.6,131.4 L1093.1,131.7 L1094.6,130.8 L1096.1,132.2 L1097.6,131.9 L1099.2,131.9 L1100.7,134.3 L1102.2,133.0 L1103.7,134.2 L1105.2,135.2 L1106.7,135.0 L1108.2,134.8 L1109.7,135.6 L1111.2,135.9 L1112.7,136.8 L1114.2,135.3 L1115.7,136.8 L1117.2,136.2 L1118.6,136.6 L1120.1,138.1 L1121.6,137.7 L1123.1,138.1 L1124.6,138.8 L1126.1,139.4 L1127.6,138.4 L1129.1,139.1 L1130.6,139.0 L1132.1,139.3 L1133.6,139.9 L1135.1,139.5 L1136.5,139.9 L1138.0,139.9 L1139.5,141.3 L1141.0,140.8 L1142.5,141.4 L1144.1,141.7 L1145.6,140.0 L1147.2,140.9 L1148.7,142.0 L1150.3,141.8 L1151.9,140.0 L1153.4,140.1 L1155.0,141.0 L1156.5,140.0 L1158.1,140.5 L1159.7,140.1 L1161.2,141.7 L1162.8,142.0 L1164.3,142.3 L1165.9,140.4 L1167.5,141.8 L1169.0,141.7 L1170.6,140.3 L1172.1,142.2 L1173.7,142.4 L1175.3,140.4 L1176.9,142.3 L1178.5,140.8 L1180.1,141.0 L1181.7,142.2 L1183.3,141.7 L1184.9,139.9 L1186.6,140.5 L1188.2,140.6 L1189.8,140.0 L1191.4,139.6 L1193.0,139.8 L1194.6,140.7 L1196.1,138.8 L1197.6,140.1 L1199.2,139.7 L1200.6,138.6 L1202.1,139.3 L1203.5,140.1 L1204.9,139.7 L1206.7,138.5 L1208.5,140.9 L1210.2,140.4 L1211.9,140.9 L1213.6,138.7 L1215.2,139.1 L1216.8,138.5 L1218.3,140.5 L1219.9,139.2 L1221.4,138.9 L1222.8,139.8 L1224.2,141.1 L1225.6,141.0 L1227.0,139.6 L1228.3,139.5 L1230.2,141.7 L1231.9,141.0 L1233.6,141.6 L1235.1,140.3 L1236.6,140.6 L1238.1,142.5 L1239.5,142.2 L1241.0,141.7 L1242.5,144.3 L1244.0,143.9 L1245.4,144.8 L1246.9,143.3 L1248.3,145.7 L1249.8,144.0 L1251.3,146.5 L1252.7,145.9 L1254.2,146.1 L1255.6,147.2 L1257.0,148.8 L1258.3,147.7 L1259.6,148.0 L1260.9,149.9 L1262.1,150.1 L1263.4,150.8 L1264.6,152.0 L1265.8,152.9 L1267.0,154.4 L1268.1,155.8 L1269.2,156.9 L1270.3,159.0 L1271.2,158.7 L1272.1,160.0 L1274.1,160.8 L1275.6,162.4 L1276.9,162.3 L1278.3,163.3 L1279.8,162.2 L1281.3,162.9 L1282.8,161.4 L1284.6,160.7 L1285.5,162.0 L1286.4,164.0 L1287.4,162.9 L1288.4,165.9 L1289.5,166.2 L1290.6,167.8 L1291.7,169.3 L1292.8,170.9 L1293.9,172.5 L1294.6,173.6 L1295.4,174.7 L1296.2,175.9 L1297.0,177.2 L1297.8,178.5 L1298.6,179.8 L1299.4,181.2 L1300.2,182.6 L1301.0,184.0 L1301.8,185.4 L1302.6,186.8 L1303.4,188.3 L1304.2,189.7 L1304.9,191.2 L1305.6,192.6 L1306.2,193.9 L1306.9,195.3 L1307.5,196.6 L1308.2,198.0 L1308.8,199.4 L1309.4,200.8 L1310.1,202.2 L1310.7,203.6 L1311.3,205.1 L1311.9,206.6 L1312.5,208.2 L1313.0,209.8 L1313.6,211.4 L1314.2,213.1 L1314.6,214.4 L1315.0,215.7 L1315.5,217.1 L1315.9,218.5 L1316.3,219.9 L1316.7,221.4 L1317.0,222.8 L1317.4,224.3 L1317.8,225.8 L1318.2,227.3 L1318.6,228.8 L1319.0,230.4 L1319.3,231.9 L1319.7,233.5 L1320.1,235.0 L1320.5,236.5 L1320.8,238.1 L1321.2,239.6 L1321.6,241.2 L1322.0,242.7 L1322.4,244.2 L1322.7,245.6 L1323.1,247.1 L1323.5,248.6 L1323.9,250.0 L1324.3,251.5 L1324.7,253.0 L1325.0,254.5 L1325.4,256.0 L1325.8,257.5 L1326.2,259.0 L1326.6,260.5 L1326.9,262.0 L1327.3,263.5 L1327.7,265.0 L1328.0,266.5 L1328.4,268.0 L1328.8,269.5 L1329.1,271.0 L1329.5,272.5 L1329.8,274.0 L1330.1,275.5 L1330.5,277.0 L1330.8,278.5 L1331.1,280.1 L1331.4,281.6 L1331.8,283.1 L1332.1,284.7 L1332.4,286.2 L1332.7,287.8 L1333.0,289.3 L1333.3,290.9 L1333.6,292.4 L1333.9,293.9 L1334.2,295.4 L1334.5,296.9 L1334.8,298.3 L1335.0,299.7 L1335.3,301.2 L1335.6,302.5 L1335.8,303.9 L1336.1,305.2 L1336.5,307.0 L1336.8,308.8 L1337.1,310.6 L1337.4,312.3 L1337.7,314.0 L1338.0,315.7 L1338.3,317.3 L1338.6,318.9 L1338.9,320.4 L1339.2,321.9 L1339.4,323.4 L1339.7,324.8 L1340.0,326.1 L1340.2,327.4 L1340.5,328.6 L1341.0,330.8 L1341.4,332.8 L1341.8,334.7 L1342.2,336.5 L1342.6,337.9 L1343.0,339.1 L1343.5,340.0 L1344.0,340.5 L1344.8,340.6 L1345.7,340.0 L1346.6,338.9 L1347.6,337.4 L1348.5,335.4 L1349.5,333.2 L1349.9,332.1 L1350.3,331.0 L1350.8,329.8 L1351.2,328.4 L1351.6,327.0 L1352.0,325.6 L1352.5,324.1 L1352.9,322.5 L1353.3,320.9 L1353.8,319.2 L1354.2,317.5 L1354.6,315.7 L1355.1,313.9 L1355.5,312.1 L1355.8,310.8 L1356.1,309.4 L1356.4,308.0 L1356.7,306.5 L1356.9,304.9 L1357.2,303.3 L1357.5,301.7 L1357.8,300.1 L1358.1,298.5 L1358.4,296.8 L1358.6,295.2 L1358.9,293.6 L1359.2,292.0 L1359.5,290.4 L1359.8,288.9 L1360.2,287.4 L1360.5,286.0 L1360.8,284.6 L1361.1,283.3 L1361.5,282.1 L1362.1,280.2 L1362.8,278.3 L1363.4,276.5 L1364.1,274.7 L1364.8,273.1 L1365.5,271.5 L1366.2,270.1 L1367.0,268.8 L1367.7,267.7 L1368.4,266.8 L1369.1,266.1 L1369.8,265.6 L1371.0,265.3 L1372.2,265.7 L1373.4,266.6 L1374.5,267.9 L1375.7,269.5 L1376.9,271.3 L1378.0,273.1 L1378.6,274.1 L1379.2,275.2 L1379.8,276.4 L1380.4,277.7 L1381.0,279.0 L1381.6,280.4 L1382.1,281.8 L1382.7,283.3 L1383.3,284.8 L1383.9,286.3 L1384.4,287.9 L1385.0,289.5 L1385.6,291.1 L1386.1,292.4 L1386.5,293.8 L1387.0,295.2 L1387.5,296.7 L1388.0,298.2 L1388.4,299.7 L1388.9,301.2 L1389.4,302.7 L1389.8,304.3 L1390.3,305.8 L1390.8,307.4 L1391.2,309.0 L1391.7,310.5 L1392.2,312.1 L1392.6,313.6 L1393.1,315.1 L1393.6,316.6 L1394.0,318.1 L1394.5,319.6 L1395.0,321.1 L1395.4,322.6 L1395.9,324.1 L1396.4,325.6 L1396.8,327.1 L1397.3,328.7 L1397.8,330.2 L1398.3,331.7 L1398.7,333.2 L1399.2,334.7 L1399.7,336.2 L1400.1,337.7 L1400.6,339.2 L1401.1,340.7 L1401.5,342.2 L1402.0,343.7 L1402.5,345.3 L1402.9,346.8 L1403.4,348.3 L1403.9,349.9 L1404.3,351.4 L1404.8,352.9 L1405.3,354.4 L1405.8,355.9 L1406.2,357.4 L1406.7,358.9 L1407.2,360.3 L1407.6,361.8 L1408.1,363.2 L1408.6,364.8 L1409.2,366.4 L1409.7,368.0 L1410.2,369.5 L1410.7,371.1 L1411.2,372.6 L1411.8,374.2 L1412.3,375.7 L1412.8,377.2 L1413.3,378.6 L1413.9,380.1 L1414.4,381.5 L1415.0,382.8 L1415.6,384.2 L1416.3,385.8 L1417.0,387.3 L1417.7,388.9 L1418.5,390.4 L1419.2,391.9 L1420.0,393.3 L1420.8,394.7 L1421.5,396.1 L1422.3,397.4 L1423.1,398.6 L1423.8,399.7 L1424.6,400.7 L1425.9,402.3 L1427.1,403.7 L1428.4,405.0 L1429.6,406.0 L1430.9,406.8 L1432.2,407.3 L1433.6,407.5 L1434.9,407.3 L1436.2,406.8 L1437.5,406.0 L1438.8,405.1 L1440.2,404.0 L1441.5,403.0 L1442.8,402.2 L1444.1,401.5 L1445.7,401.2 L1447.3,401.3 L1448.9,401.5 L1450.4,401.4 L1451.8,400.8 L1453.1,399.2 L1453.6,398.3 L1454.0,397.3 L1454.4,396.1 L1454.8,394.9 L1455.2,393.5 L1455.6,392.1 L1455.9,390.5 L1456.3,388.9 L1456.6,387.3 L1457.0,385.6 L1457.3,383.9 L1457.7,382.1 L1458.0,380.4 L1458.4,378.6 L1458.7,376.9 L1459.1,375.2 L1459.4,373.8 L1459.7,372.4 L1460.0,371.0 L1460.3,369.6 L1460.6,368.1 L1460.9,366.6 L1461.3,365.1 L1461.6,363.6 L1461.9,362.1 L1462.2,360.6 L1462.5,359.0 L1462.8,357.5 L1463.1,355.9 L1463.4,354.4 L1463.7,352.8 L1464.0,351.3 L1464.3,349.8 L1464.6,348.2 L1464.8,346.7 L1465.1,345.2 L1465.4,343.7 L1465.6,342.2 L1465.9,340.7 L1466.1,339.2 L1466.3,337.7 L1466.6,336.2 L1466.8,334.7 L1467.0,333.2 L1467.2,331.7 L1467.4,330.1 L1467.7,328.6 L1467.9,327.1 L1468.1,325.6 L1468.3,324.1 L1468.5,322.6 L1468.7,321.1 L1468.9,319.6 L1469.2,318.1 L1469.4,316.6 L1469.6,315.1 L1469.8,313.6 L1470.0,312.1 L1470.3,310.6 L1470.5,309.1 L1470.7,307.6 L1470.9,306.1 L1471.2,304.6 L1471.4,303.1 L1471.6,301.6 L1471.8,300.1 L1472.1,298.6 L1472.3,297.1 L1472.5,295.6 L1472.7,294.1 L1473.0,292.6 L1473.2,291.1 L1473.4,289.6 L1473.7,288.1 L1473.9,286.6 L1474.1,285.1 L1474.3,283.6 L1474.5,282.1 L1474.8,280.5 L1475.0,279.0 L1475.2,277.4 L1475.4,275.8 L1475.6,274.2 L1475.8,272.7 L1476.0,271.1 L1476.2,269.5 L1476.5,268.0 L1476.7,266.5 L1476.9,264.9 L1477.1,263.4 L1477.4,262.0 L1477.6,260.5 L1477.8,259.1 L1478.1,257.7 L1478.3,256.4 L1478.6,255.1 L1479.0,253.3 L1479.4,251.6 L1479.8,249.9 L1480.2,248.3 L1480.6,246.7 L1481.0,245.2 L1481.5,243.7 L1481.9,242.2 L1482.4,240.8 L1482.8,239.4 L1483.3,238.0 L1483.7,236.7 L1484.2,235.4 L1484.7,234.1 L1485.3,232.5 L1486.0,230.9 L1486.6,229.4 L1487.3,228.0 L1487.9,226.6 L1488.6,225.2 L1489.3,223.9 L1490.0,222.6 L1490.7,222.3 L1491.5,219.9 L1492.2,219.0 L1493.1,218.1 L1494.1,217.5 L1495.1,214.6 L1496.1,214.6 L1497.1,213.1 L1498.1,211.8 L1499.2,210.2 L1500.2,209.0 L1501.2,207.3 L1502.5,206.4 L1503.7,205.2 L1504.9,206.0 L1506.1,203.9 L1507.4,202.9 L1508.8,202.0 L1510.2,203.4 L1511.5,203.0 L1512.8,202.1 L1514.1,200.8 L1515.5,200.5 L1517.0,200.4 L1518.5,200.6 L1520.3,199.6 L1522.2,200.2 L1523.5,199.5 L1524.9,201.2 L1526.4,201.0 L1528.0,199.7 L1529.6,198.7 L1531.3,200.4 L1533.0,198.5 L1534.7,198.5 L1536.4,197.4 L1538.0,198.3 L1539.6,198.4 L1541.1,198.5 L1542.5,197.7 L1544.2,198.6 L1545.9,197.4 L1547.5,198.3 L1549.0,198.1 L1550.5,199.2 L1552.0,198.6 L1553.4,198.9 L1554.8,200.0 L1556.1,200.3 L1557.5,201.7 L1559.0,202.3 L1560.4,203.7 L1561.8,204.4 L1563.1,205.5 L1564.4,207.0 L1565.7,206.7 L1567.0,207.3 L1568.2,209.8 L1569.5,208.1 L1571.1,209.8 L1572.6,209.5 L1574.1,207.5 L1575.6,209.2 L1577.0,209.0 L1578.5,208.3 L1580.0,208.9 L1581.2,209.7 L1582.3,208.9 L1583.4,210.9 L1584.5,212.0 L1585.7,214.1 L1586.8,215.3 L1588.0,216.6 L1589.3,217.2 L1590.6,219.0 L1591.9,219.3 L1593.3,220.1 L1594.7,219.7 L1596.2,219.9 L1597.7,220.9 L1599.2,222.2 L1600.6,222.3 L1601.9,224.9 L1603.1,224.9 L1604.1,225.9 L1605.4,227.5 L1606.3,229.5 L1606.9,230.8 L1607.4,231.3 L1608.0,234.6 L1608.6,235.2 L1609.5,234.3 L1610.2,232.9 L1611.2,231.4 L1613.1,228.9 L1614.2,230.5 L1615.4,229.2 L1616.7,228.8 L1618.1,229.4 L1619.7,230.7 L1621.3,229.6 L1622.9,231.2 L1624.6,232.1 L1626.4,231.2 L1628.1,231.3 L1629.5,231.9 L1630.9,232.8 L1632.4,233.4 L1633.9,233.4 L1635.5,234.0 L1637.1,233.0 L1638.6,233.7 L1640.2,234.5 L1641.8,236.2 L1643.3,235.6 L1644.8,236.8 L1646.2,235.9 L1647.6,236.5 L1649.3,237.6 L1650.9,239.2 L1652.5,239.8 L1654.1,240.2 L1655.6,239.8 L1657.0,240.9 L1658.5,241.4 L1659.9,242.0 L1661.2,241.8 L1662.6,244.6 L1663.9,243.7 L1665.2,246.6 L1666.5,247.5 L1667.7,246.1 L1668.9,248.3 L1670.1,250.3 L1671.3,251.8 L1672.4,251.6 L1673.6,252.3 L1674.7,253.3 L1675.7,256.4 L1676.7,255.6 L1677.7,257.7 L1678.7,257.7 L1679.7,259.9 L1680.6,262.3 L1681.6,261.4 L1682.5,264.5 L1683.4,264.9 L1684.3,267.3 L1685.2,268.1 L1686.0,268.2 L1686.8,271.2 L1687.6,271.5 L1688.4,271.6 L1689.2,273.0 L1690.0,275.6 L1690.7,276.9 L1691.5,278.0 L1692.2,279.0 L1692.9,280.9 L1693.6,282.2 L1694.2,285.0 L1694.9,284.3 L1695.5,287.7 L1696.1,289.4 L1696.6,289.0 L1697.1,292.6 L1697.6,293.6 L1698.1,295.5 L1698.6,295.4 L1699.1,297.2 L1699.7,298.8 L1700.2,300.6 L1700.7,302.1 L1701.2,303.5 L1701.7,305.0 L1702.2,306.5 L1702.7,308.1 L1703.2,309.6 L1703.7,311.1 L1704.2,312.6 L1704.7,314.2 L1705.2,315.7 L1705.7,317.1 L1706.2,318.6 L1706.8,320.2 L1707.3,321.7 L1707.9,323.2 L1708.5,324.7 L1709.1,326.2 L1709.7,327.7 L1710.3,329.2 L1710.8,330.7 L1711.3,332.2 L1711.8,333.7 L1712.2,335.2 L1712.6,336.7 L1712.9,338.2 L1713.2,339.7 L1713.5,341.2 L1713.8,342.7 L1714.0,344.2 L1714.2,345.7 L1714.4,347.3 L1714.6,348.8 L1714.8,350.4 L1715.0,352.0 L1715.2,353.6 L1715.3,355.4 L1715.4,357.4 L1715.5,359.4 L1715.5,361.4 L1715.6,363.4 L1715.7,365.3 L1715.8,367.0 L1715.9,368.5 L1716.0,369.7 L1716.1,370.5 L1716.3,371.0 L1716.6,371.0 L1716.9,370.3 L1717.2,369.1 L1717.5,367.5 L1717.9,365.7 L1718.3,363.6 L1718.7,361.5 L1719.2,359.5 L1719.7,357.7 L1720.1,356.3 L1720.5,354.7 L1721.0,353.0 L1721.5,351.2 L1722.0,349.4 L1722.5,347.6 L1723.1,345.9 L1723.6,344.3 L1724.1,342.9 L1724.7,341.8 L1725.2,340.9 L1725.7,340.4 L1726.5,340.3 L1727.4,341.0 L1728.2,342.3 L1729.0,344.0 L1729.9,346.0 L1730.8,348.1 L1731.7,350.2 L1732.2,351.3 L1732.8,352.5 L1733.3,353.8 L1733.9,355.1 L1734.5,356.5 L1735.1,358.0 L1735.7,359.4 L1736.2,360.9 L1736.8,362.4 L1737.4,363.9 L1738.0,365.3 L1738.6,366.8 L1739.2,368.2 L1739.8,369.6 L1740.4,371.0 L1741.0,372.4 L1741.6,373.8 L1742.2,375.2 L1742.8,376.6 L1743.4,378.0 L1743.9,379.4 L1744.5,380.8 L1745.1,382.2 L1745.6,383.6 L1746.2,384.9 L1746.7,386.2 L1747.3,387.7 L1747.8,389.1 L1748.4,390.5 L1748.9,391.8 L1749.4,393.2 L1749.9,394.5 L1750.4,395.9 L1750.9,397.3 L1751.4,398.8 L1751.9,400.3 L1752.5,402.0 L1752.9,403.3 L1753.3,404.6 L1753.8,405.9 L1754.2,407.2 L1754.6,408.6 L1755.1,410.0 L1755.5,411.5 L1756.0,412.9 L1756.4,414.4 L1756.9,415.9 L1757.4,417.5 L1757.8,419.1 L1758.3,420.7 L1758.7,422.3 L1759.2,424.0 L1759.6,425.4 L1759.9,426.7 L1760.3,428.1 L1760.7,429.5 L1761.0,431.0 L1761.4,432.5 L1761.8,433.9 L1762.1,435.4 L1762.5,437.0 L1762.9,438.5 L1763.3,440.0 L1763.6,441.6 L1764.0,443.2 L1764.4,444.8 L1764.8,446.4 L1765.2,448.0 L1765.6,449.6 L1766.0,451.3 L1766.4,452.9 L1766.7,454.3 L1767.1,455.7 L1767.5,457.1 L1767.8,458.5 L1768.2,460.0 L1768.6,461.4 L1769.0,462.9 L1769.4,464.4 L1769.8,465.9 L1770.2,467.4 L1770.6,468.9 L1770.9,470.5 L1771.3,472.0 L1771.7,473.5 L1772.1,475.0 L1772.5,476.5 L1772.9,478.0 L1773.2,479.4 L1773.6,480.9 L1773.9,482.3 L1774.3,483.7 L1774.6,485.1 L1774.9,486.5 L1775.3,488.1 L1775.6,489.8 L1776.0,491.4 L1776.3,492.9 L1776.6,494.5 L1776.9,496.1 L1777.2,497.6 L1777.5,499.1 L1777.8,500.6 L1778.1,502.1 L1778.3,503.6 L1778.6,505.1 L1778.9,506.6 L1779.1,508.1 L1779.4,509.5 L1779.7,511.0 L1780.0,512.5 L1780.2,513.9 L1780.5,515.4 L1780.8,516.9 L1781.1,518.5 L1781.4,520.0 L1781.6,521.5 L1781.9,523.0 L1782.2,524.4 L1782.4,525.9 L1782.7,527.4 L1783.0,528.9 L1783.2,530.3 L1783.5,531.8 L1783.8,533.2 L1784.1,534.7 L1784.3,536.2 L1784.6,537.6 L1784.9,539.1 L1785.2,540.5 L1785.5,542.0 L1785.8,543.5 L1786.2,545.0 L1786.5,546.5 L1786.8,548.0 L1787.2,549.5 L1787.5,550.9 L1787.9,552.4 L1788.2,553.8 L1788.6,555.3 L1789.0,556.8 L1789.3,558.3 L1789.7,559.9 L1790.1,561.5 L1790.4,563.1 L1790.8,564.8 L1791.1,566.5 L1791.5,568.3 L1791.8,569.6 L1792.0,571.0 L1792.3,572.4 L1792.5,573.8 L1792.8,575.2 L1793.0,576.7 L1793.3,578.2 L1793.5,579.8 L1793.8,581.3 L1794.0,582.9 L1794.3,584.4 L1794.5,586.0 L1794.8,587.6 L1795.0,589.1 L1795.3,590.7 L1795.6,592.3 L1795.8,593.9 L1796.1,595.4 L1796.3,596.9 L1796.6,598.5 L1796.9,600.0 L1797.1,601.4 L1797.4,602.9 L1797.7,604.3 L1798.0,605.9 L1798.4,607.5 L1798.7,609.0 L1799.0,610.6 L1799.4,612.1 L1799.7,613.7 L1800.1,615.2 L1800.4,616.7 L1800.8,618.2 L1801.1,619.7 L1801.5,621.1 L1801.8,622.6 L1802.2,624.1 L1802.6,625.5 L1802.9,627.0 L1803.2,628.4 L1803.6,629.9 L1803.9,631.3 L1804.3,632.7 L1804.6,634.2 L1804.9,635.6 L1805.2,637.2 L1805.6,638.7 L1806.0,640.3 L1806.3,641.8 L1806.7,643.3 L1807.0,644.8 L1807.3,646.3 L1807.7,647.8 L1808.0,649.3 L1808.4,650.8 L1808.7,652.3 L1809.0,653.8 L1809.3,655.3 L1809.6,656.8 L1809.9,658.3 L1810.2,659.8 L1810.4,661.3 L1810.7,662.8 L1810.9,664.4 L1811.1,665.9 L1811.3,667.4 L1811.4,668.9 L1811.6,670.5 L1811.7,672.0 L1811.8,673.5 L1811.9,675.1 L1812.0,676.7 L1812.1,678.2 L1812.2,679.8 L1812.3,681.3 L1812.3,682.9 L1812.4,684.5 L1812.5,686.0 L1812.7,687.5 L1812.8,689.1 L1812.9,690.6 L1813.1,692.1 L1813.3,693.5 L1813.5,695.0 L1813.8,696.6 L1814.1,698.2 L1814.4,699.7 L1814.7,701.2 L1815.0,702.7 L1815.4,704.2 L1815.7,705.7 L1816.1,707.1 L1816.5,708.6 L1816.9,710.0 L1817.3,711.5 L1817.7,713.0 L1818.1,714.5 L1818.5,716.0 L1818.9,717.6 L1819.3,719.1 L1819.6,720.8 L1820.0,722.4 L1820.3,723.8 L1820.6,725.2 L1820.9,726.6 L1821.2,728.1 L1821.5,729.6 L1821.8,731.0 L1822.1,732.6 L1822.5,734.1 L1822.8,735.6 L1823.1,737.1 L1823.4,738.7 L1823.7,740.2 L1824.0,741.7 L1824.3,743.3 L1824.6,744.8 L1824.9,746.3 L1825.2,747.8 L1825.5,749.3 L1825.7,750.7 L1826.0,752.1 L1826.3,753.5 L1826.5,754.9 L1826.8,756.5 L1827.1,758.1 L1827.4,759.7 L1827.6,761.3 L1827.9,762.8 L1828.1,764.3 L1828.4,765.8 L1828.6,767.3 L1828.9,768.7 L1829.1,770.2 L1829.3,771.7 L1829.5,773.1 L1829.7,774.6 L1830.0,776.0 L1830.2,777.5 L1830.4,778.9 L1830.6,780.4 L1830.8,781.9 L1831.0,783.4 L1831.2,784.9 L1831.4,786.4 L1831.6,787.9 L1831.8,789.4 L1831.9,790.9 L1832.1,792.4 L1832.3,793.9 L1832.5,795.4 L1832.6,796.9 L1832.8,798.4 L1833.0,799.9 L1833.1,801.4 L1833.3,802.9 L1833.5,804.4 L1833.6,805.9 L1833.8,807.4 L1834.0,808.9 L1834.2,810.4 L1834.4,811.9 L1834.5,813.3 L1834.7,814.8 L1834.9,816.2 L1835.1,817.6 L1835.3,819.1 L1835.5,820.5 L1835.6,822.0 L1835.8,823.4 L1836.0,824.9 L1836.2,826.4 L1836.4,827.9 L1836.6,829.4 L1836.8,831.0 L1836.9,832.6 L1837.1,834.2 L1837.3,835.9 L1837.4,837.3 L1837.6,838.8 L1837.8,840.3 L1837.9,841.9 L1838.1,843.4 L1838.2,845.1 L1838.4,846.7 L1838.5,848.4 L1838.7,850.0 L1838.9,851.7 L1839.0,853.4 L1839.2,855.1 L1839.3,856.7 L1839.5,858.3 L1839.6,859.9 L1839.8,861.5 L1839.9,863.1 L1840.0,864.6 L1840.2,866.0 L1840.3,867.4 L1840.4,868.7 L1840.5,870.0 L1840.7,872.0 L1840.8,873.8 L1841.0,875.4 L1841.1,876.9 L1841.2,878.3 L1841.3,879.6 L1841.4,880.9 L1841.5,882.2 L1841.6,883.6 L1841.7,885.0 L1841.8,886.5 L1841.9,888.2 L1842.0,890.0 L1842.1,891.3 L1842.1,892.6 L1842.2,894.0 L1842.3,895.4 L1842.3,896.9 L1842.4,898.4 L1842.5,899.9 L1842.5,901.4 L1842.6,903.0 L1842.6,904.6 L1842.7,906.2 L1842.8,907.8 L1842.9,909.4 L1843.0,910.9 L1843.1,912.5 L1843.2,914.1 L1843.3,915.6 L1843.4,917.1 L1843.5,918.6 L1843.7,920.0 L1843.9,921.6 L1844.1,923.2 L1844.3,924.8 L1844.6,926.4 L1844.8,927.9 L1845.1,929.4 L1845.4,930.9 L1845.7,932.4 L1846.0,933.8 L1846.3,935.3 L1846.6,936.9 L1846.9,938.4 L1847.2,939.9 L1847.5,941.5 L1847.9,943.1 L1848.2,944.8 L1848.5,946.5 L1848.8,947.9 L1849.0,949.4 L1849.3,951.0 L1849.6,952.5 L1849.9,954.2 L1850.2,955.8 L1850.5,957.5 L1850.8,959.1 L1851.1,960.8 L1851.5,962.5 L1851.8,964.2 L1852.1,965.8 L1852.4,967.5 L1852.7,969.1 L1853.0,970.7 L1853.3,972.2 L1853.6,973.7 L1853.8,975.1 L1854.1,976.4 L1854.4,977.7 L1854.6,978.9 L1855.0,981.0 L1855.4,982.8 L1855.8,984.4 L1856.2,985.9 L1856.5,987.3 L1856.8,988.5 L1857.2,989.8 L1857.5,991.0 L1857.8,992.2 L1858.1,993.6 L1858.5,995.0 L1858.9,996.5 L1859.2,998.0 L1859.6,999.6 L1860.0,1001.2 L1860.3,1002.7 L1860.7,1004.3 L1861.1,1005.9 L1861.4,1007.4 L1861.8,1009.0 L1862.2,1010.5 L1862.5,1012.0 L1862.9,1013.7 L1863.2,1015.3 L1863.6,1017.0 L1863.9,1018.7 L1864.3,1020.3 L1864.6,1021.9 L1865.0,1023.5 L1865.3,1025.1 L1865.7,1026.6 L1866.0,1028.0 L1866.4,1029.7 L1866.8,1031.2 L1867.2,1032.7 L1867.5,1034.1 L1867.9,1035.6 L1868.4,1037.0 L1868.9,1038.4 L1869.5,1040.0 L1870.1,1041.3 L1870.7,1042.5 L1871.4,1043.8 L1872.1,1045.1 L1872.9,1046.4 L1873.6,1047.7 L1874.4,1049.1 L1875.1,1050.6 L1875.8,1052.1 L1876.5,1053.7 L1877.0,1055.0 L1877.5,1056.3 L1877.9,1057.7 L1878.4,1059.0 L1878.8,1060.5 L1879.3,1061.9 L1879.7,1063.4 L1880.1,1064.9 L1880.6,1066.5 L1881.0,1068.0 L1881.4,1069.6 L1881.9,1071.3 L1882.3,1072.9 L1882.7,1074.3 L1883.0,1075.7 L1883.4,1077.2 L1883.8,1078.7 L1884.2,1080.2 L1884.6,1081.8 L1884.9,1083.3 L1885.3,1084.9 L1885.7,1086.5 L1886.1,1088.0 L1886.4,1089.6 L1886.8,1091.1 L1887.1,1092.6 L1887.5,1094.1 L1887.8,1095.5 L1888.1,1096.9 L1888.5,1098.5 L1888.8,1100.1 L1889.1,1101.7 L1889.4,1103.2 L1889.7,1104.7 L1890.0,1106.1 L1890.3,1107.6 L1890.5,1109.0 L1890.8,1110.4 L1891.1,1111.8 L1891.3,1113.3 L1891.6,1114.7 L1891.9,1116.2 L1892.2,1117.7 L1892.5,1119.1 L1892.8,1120.5 L1893.1,1122.0 L1893.4,1123.4 L1893.7,1124.8 L1894.0,1126.2 L1894.3,1127.7 L1894.6,1129.1 L1894.9,1130.6 L1895.2,1132.2 L1895.5,1133.8 L1895.8,1135.4 L1896.0,1136.8 L1896.3,1138.2 L1896.5,1139.7 L1896.8,1141.2 L1897.0,1142.7 L1897.3,1144.3 L1897.5,1145.8 L1897.8,1147.4 L1898.0,1149.0 L1898.3,1150.5 L1898.5,1152.1 L1898.8,1153.6 L1899.0,1155.1 L1899.2,1156.6 L1899.4,1158.0 L1899.6,1159.4 L1899.8,1161.2 L1900.1,1162.8 L1900.3,1164.5 L1900.5,1166.0 L1900.7,1167.6 L1900.8,1169.1 L1901.0,1170.6 L1901.2,1172.2 L1901.4,1173.7 L1901.6,1175.3 L1901.8,1177.0 L1902.0,1178.7 L1902.2,1180.1 L1902.4,1181.4 L1902.6,1182.8 L1902.8,1184.1 L1903.0,1185.4 L1903.2,1186.7 L1903.4,1188.1 L1903.6,1189.5 L1903.9,1191.0 L1904.1,1192.5 L1904.3,1194.1 L1904.6,1195.8 L1904.8,1197.7 L1905.1,1199.6 L1905.3,1201.7 L1905.4,1202.9 L1905.6,1204.2 L1905.7,1205.6 L1905.9,1207.0 L1906.0,1208.5 L1906.2,1210.0 L1906.3,1211.6 L1906.5,1213.3 L1906.6,1214.9 L1906.8,1216.6 L1907.0,1218.4 L1907.1,1220.1 L1907.3,1221.8 L1907.4,1223.6 L1907.6,1225.3 L1907.8,1227.0 L1907.9,1228.7 L1908.1,1230.3 L1908.2,1232.0 L1908.4,1233.5 L1908.5,1235.1 L1908.7,1236.5 L1908.8,1237.9 L1909.0,1239.2 L1909.1,1240.5 L1909.3,1241.7 L1909.4,1242.7 L1909.5,1243.7 L1910.0,1247.3 L1910.4,1249.9 L1910.8,1251.5 L1911.2,1252.4 L1911.6,1252.8 L1912.0,1253.0 L1912.6,1252.7 L1913.1,1251.5 L1913.7,1249.7 L1914.4,1247.5 L1915.0,1245.0 L1915.3,1243.8 L1915.6,1242.6 L1915.9,1241.3 L1916.2,1239.9 L1916.6,1238.5 L1916.9,1237.0 L1917.2,1235.4 L1917.5,1233.7 L1917.9,1231.9 L1918.2,1230.0 L1918.5,1228.0 L1918.7,1226.7 L1918.9,1225.4 L1919.1,1224.1 L1919.3,1222.7 L1919.5,1221.4 L1919.7,1219.9 L1919.9,1218.5 L1920.1,1217.0 L1920.2,1215.4 L1920.4,1213.9 L1920.6,1212.3 L1920.8,1210.6 L1921.0,1209.0 L1921.2,1207.2 L1921.4,1205.5 L1921.6,1203.7 L1921.8,1201.9 L1922.0,1200.0 L1922.1,1198.7 L1922.3,1197.3 L1922.4,1196.0 L1922.5,1194.6 L1922.7,1193.2 L1922.8,1191.8 L1923.0,1190.4 L1923.1,1188.9 L1923.2,1187.4 L1923.4,1185.9 L1923.5,1184.4 L1923.6,1182.9 L1923.8,1181.4 L1923.9,1179.8 L1924.1,1178.2 L1924.2,1176.7 L1924.3,1175.1 L1924.5,1173.4 L1924.6,1171.8 L1924.7,1170.2 L1924.9,1168.5 L1925.0,1166.8 L1925.1,1165.1 L1925.2,1163.4 L1925.4,1161.7 L1925.5,1160.0 L1925.6,1158.6 L1925.7,1157.2 L1925.8,1155.8 L1925.9,1154.3 L1926.0,1152.8 L1926.1,1151.2 L1926.2,1149.7 L1926.3,1148.1 L1926.4,1146.5 L1926.5,1144.9 L1926.6,1143.3 L1926.7,1141.7 L1926.8,1140.1 L1926.9,1138.5 L1927.0,1136.8 L1927.0,1135.2 L1927.1,1133.6 L1927.2,1131.9 L1927.3,1130.3 L1927.4,1128.7 L1927.5,1127.1 L1927.6,1125.6 L1927.7,1124.0 L1927.8,1122.5 L1927.9,1121.0 L1927.9,1119.5 L1928.0,1118.0 L1928.1,1116.6 L1928.2,1115.2 L1928.3,1113.8 L1928.3,1112.5 L1928.4,1111.2 L1928.5,1110.0 L1928.6,1108.0 L1928.7,1106.1 L1928.9,1104.1 L1929.0,1102.2 L1929.1,1100.4 L1929.2,1098.6 L1929.4,1096.8 L1929.5,1095.1 L1929.6,1093.5 L1929.7,1091.9 L1929.8,1090.3 L1929.9,1088.9 L1930.0,1087.5 L1930.1,1086.2 L1930.2,1084.9 L1930.2,1083.8 L1930.3,1082.7 L1930.4,1081.7 L1930.4,1080.8 L1930.5,1080.0" fill="none" stroke="#0a0a0c" stroke-width="7.5" stroke-linejoin="round" stroke-linecap="round"/>
<path d="M228.1,546.0 L229.0,546.3 L230.2,547.3 L231.7,546.2 L233.3,546.4 L235.0,546.7 L236.8,545.8 L238.6,546.8 L240.4,547.2 L241.8,547.8 L243.3,546.1 L244.8,546.8 L246.3,546.4 L247.9,548.4 L249.4,548.3 L251.0,546.7 L252.6,549.3 L254.2,549.5 L255.7,548.8 L257.2,548.9 L258.8,547.8 L260.3,547.6 L261.9,549.0 L263.4,548.0 L264.9,548.4 L266.5,548.7 L268.0,548.4 L269.6,549.7 L271.1,549.8 L272.6,551.1 L274.2,550.5 L275.7,551.1 L277.2,550.9 L278.8,551.6 L280.3,551.4 L281.8,551.2 L283.3,553.5 L284.9,553.9 L286.4,553.9 L287.8,554.0 L289.2,553.5 L290.6,553.8 L292.0,554.5 L293.4,554.5 L294.8,557.0 L296.2,556.6 L297.6,558.4 L299.0,557.8 L300.4,559.8 L301.8,560.1 L303.3,558.5 L304.9,559.5 L306.4,561.8 L308.0,561.2 L309.5,563.0 L311.0,562.0 L312.6,561.7 L314.1,563.6 L315.7,564.6 L317.2,563.9 L318.6,564.0 L320.1,565.3 L321.6,567.6 L323.1,567.7 L324.6,566.8 L326.1,567.8 L327.5,568.2 L328.9,568.8 L330.2,571.4 L331.4,570.6 L332.5,572.4 L334.0,573.3 L335.3,573.8 L336.3,576.5 L337.3,576.3 L338.2,578.9 L339.2,578.9 L340.2,581.2 L341.1,581.8 L342.0,583.1 L342.9,586.2 L343.8,587.0 L344.7,586.9 L345.6,588.8 L346.5,590.1 L347.2,591.5 L347.9,593.0 L348.4,594.3 L348.9,595.7 L349.3,597.1 L349.7,598.5 L350.0,599.9 L350.3,601.4 L350.7,603.0 L351.0,604.6 L351.3,606.4 L351.7,608.3 L351.9,609.5 L352.2,610.7 L352.5,611.9 L352.7,613.2 L353.0,614.4 L353.2,615.7 L353.5,617.0 L353.8,618.4 L354.0,619.8 L354.3,621.3 L354.5,622.9 L354.8,624.5 L355.0,626.2 L355.3,628.1 L355.6,630.0 L355.8,632.0 L355.9,633.2 L356.1,634.5 L356.2,635.8 L356.4,637.1 L356.5,638.5 L356.7,639.9 L356.8,641.4 L356.9,642.9 L357.1,644.4 L357.2,645.9 L357.4,647.5 L357.5,649.1 L357.7,650.6 L357.8,652.3 L357.9,653.9 L358.1,655.5 L358.2,657.2 L358.4,658.8 L358.5,660.5 L358.6,662.1 L358.8,663.8 L358.9,665.4 L359.0,667.0 L359.1,668.7 L359.3,670.3 L359.4,671.9 L359.5,673.4 L359.6,675.0 L359.7,676.5 L359.8,677.9 L359.9,679.3 L360.0,680.7 L360.1,682.0 L360.2,683.3 L360.3,684.6 L360.4,685.9 L360.4,687.2 L360.5,688.5 L360.6,689.8 L360.7,691.1 L360.7,692.4 L360.8,693.7 L360.9,695.0 L361.0,696.4 L361.0,697.8 L361.1,699.2 L361.2,700.7 L361.3,702.2 L361.3,703.7 L361.4,705.3 L361.5,707.0 L361.6,708.8 L361.7,710.5 L361.7,712.4 L361.8,714.4 L361.9,716.4 L362.0,718.5 L362.0,719.7 L362.1,720.9 L362.1,722.1 L362.2,723.3 L362.2,724.5 L362.3,725.8 L362.4,727.1 L362.4,728.4 L362.5,729.7 L362.5,731.0 L362.6,732.3 L362.6,733.7 L362.7,735.1 L362.7,736.5 L362.8,737.9 L362.8,739.3 L362.9,740.7 L363.0,742.2 L363.0,743.6 L363.1,745.1 L363.1,746.6 L363.2,748.1 L363.2,749.6 L363.3,751.1 L363.3,752.6 L363.4,754.2 L363.5,755.7 L363.5,757.3 L363.6,758.8 L363.6,760.4 L363.7,762.0 L363.7,763.6 L363.8,765.2 L363.8,766.8 L363.9,768.4 L363.9,770.1 L364.0,771.7 L364.1,773.3 L364.1,775.0 L364.2,776.6 L364.2,778.3 L364.3,779.9 L364.3,781.6 L364.4,783.2 L364.4,784.9 L364.5,786.6 L364.5,788.2 L364.5,789.9 L364.6,791.6 L364.6,793.3 L364.7,795.0 L364.7,796.6 L364.8,798.3 L364.8,800.0 L364.8,801.4 L364.9,802.8 L364.9,804.2 L364.9,805.6 L365.0,807.0 L365.0,808.4 L365.0,809.8 L365.0,811.3 L365.1,812.7 L365.1,814.1 L365.1,815.6 L365.2,817.1 L365.2,818.5 L365.2,820.0 L365.2,821.5 L365.3,823.0 L365.3,824.4 L365.3,825.9 L365.3,827.4 L365.4,828.9 L365.4,830.4 L365.4,832.0 L365.4,833.5 L365.5,835.0 L365.5,836.5 L365.5,838.1 L365.5,839.6 L365.6,841.1 L365.6,842.7 L365.6,844.2 L365.6,845.7 L365.6,847.3 L365.7,848.8 L365.7,850.4 L365.7,851.9 L365.7,853.5 L365.8,855.1 L365.8,856.6 L365.8,858.2 L365.8,859.7 L365.8,861.3 L365.9,862.9 L365.9,864.4 L365.9,866.0 L365.9,867.5 L365.9,869.1 L366.0,870.7 L366.0,872.2 L366.0,873.8 L366.0,875.3 L366.0,876.9 L366.0,878.5 L366.1,880.0 L366.1,881.6 L366.1,883.1 L366.1,884.7 L366.1,886.2 L366.2,887.8 L366.2,889.3 L366.2,890.8 L366.2,892.4 L366.2,893.9 L366.2,895.4 L366.3,897.0 L366.3,898.5 L366.3,900.0 L366.3,901.5 L366.3,903.0 L366.4,904.4 L366.4,905.9 L366.4,907.3 L366.4,908.7 L366.4,910.1 L366.4,911.5 L366.5,912.8 L366.5,914.2 L366.5,915.5 L366.5,916.8 L366.5,918.1 L366.5,919.4 L366.5,920.7 L366.6,922.0 L366.6,923.3 L366.6,924.6 L366.6,925.8 L366.6,927.1 L366.6,928.4 L366.6,929.6 L366.7,930.9 L366.7,932.2 L366.7,933.4 L366.7,934.7 L366.7,936.0 L366.7,937.2 L366.7,938.5 L366.7,939.8 L366.8,941.1 L366.8,942.4 L366.8,943.8 L366.8,945.1 L366.8,946.4 L366.8,947.8 L366.8,949.2 L366.8,950.5 L366.8,951.9 L366.9,953.4 L366.9,954.8 L366.9,956.3 L366.9,957.8 L366.9,959.3 L366.9,960.8 L366.9,962.3 L366.9,963.9 L367.0,965.5 L367.0,967.1 L367.0,968.8 L367.0,970.5 L367.0,972.2 L367.0,974.0 L367.0,975.7 L367.0,977.5 L367.1,979.4 L367.1,981.3 L367.1,983.2 L367.1,985.2 L367.1,987.2 L367.1,989.2 L367.1,991.3 L367.2,993.4 L367.2,995.5 L367.2,997.8 L367.2,1000.0 L367.2,1001.1 L367.2,1002.3 L367.2,1003.5 L367.2,1004.7 L367.2,1005.9 L367.2,1007.1 L367.3,1008.4 L367.3,1009.6 L367.3,1010.9 L367.3,1012.2 L367.3,1013.5 L367.3,1014.9 L367.3,1016.2 L367.3,1017.6 L367.3,1019.0 L367.3,1020.4 L367.3,1021.8 L367.3,1023.2 L367.3,1024.7 L367.4,1026.1 L367.4,1027.6 L367.4,1029.1 L367.4,1030.6 L367.4,1032.1 L367.4,1033.6 L367.4,1035.1 L367.4,1036.7 L367.4,1038.2 L367.4,1039.8 L367.4,1041.4 L367.4,1042.9 L367.4,1044.5 L367.5,1046.2 L367.5,1047.8 L367.5,1049.4 L367.5,1051.0 L367.5,1052.7 L367.5,1054.3 L367.5,1056.0 L367.5,1057.6 L367.5,1059.3 L367.5,1061.0 L367.5,1062.7 L367.5,1064.4 L367.5,1066.1 L367.6,1067.8 L367.6,1069.5 L367.6,1071.2 L367.6,1072.9 L367.6,1074.6 L367.6,1076.3 L367.6,1078.1 L367.6,1079.8 L367.6,1081.5 L367.6,1083.3 L367.6,1085.0 L367.6,1086.7 L367.7,1088.5 L367.7,1090.2 L367.7,1092.0 L367.7,1093.7 L367.7,1095.5 L367.7,1097.2 L367.7,1099.0 L367.7,1100.7 L367.7,1102.4 L367.7,1104.2 L367.7,1105.9 L367.7,1107.7 L367.8,1109.4 L367.8,1111.1 L367.8,1112.9 L367.8,1114.6 L367.8,1116.3 L367.8,1118.0 L367.8,1119.7 L367.8,1121.5 L367.8,1123.2 L367.8,1124.9 L367.8,1126.6 L367.8,1128.2 L367.9,1129.9 L367.9,1131.6 L367.9,1133.3 L367.9,1134.9 L367.9,1136.6 L367.9,1138.2 L367.9,1139.9 L367.9,1141.5 L367.9,1143.1 L367.9,1144.7 L367.9,1146.3 L367.9,1147.9 L368.0,1149.5 L368.0,1151.1 L368.0,1152.7 L368.0,1154.2 L368.0,1155.7 L368.0,1157.3 L368.0,1158.8 L368.0,1160.3 L368.0,1161.8 L368.0,1163.3 L368.0,1164.7 L368.1,1166.2 L368.1,1167.6 L368.1,1169.0 L368.1,1170.5 L368.1,1171.8 L368.1,1173.2 L368.1,1174.6 L368.1,1175.9 L368.1,1177.3 L368.1,1178.6 L368.1,1179.9 L368.1,1181.2 L368.2,1182.4 L368.2,1183.7 L368.2,1184.9 L368.2,1186.1 L368.2,1187.3 L368.2,1188.5 L368.2,1189.6 L368.2,1190.8 L368.2,1191.9 L368.2,1193.0 L368.2,1194.0 L368.3,1195.1 L368.3,1196.1 L368.3,1197.1 L368.3,1198.1 L368.3,1199.1 L368.3,1200.0 L368.3,1203.9 L368.4,1207.5 L368.4,1211.0 L368.5,1214.2 L368.5,1217.3 L368.5,1220.1 L368.6,1222.8 L368.6,1225.3 L368.6,1227.6 L368.7,1229.8 L368.7,1231.8 L368.8,1233.6 L368.8,1235.3 L368.8,1236.9 L368.9,1238.3 L368.9,1239.6 L369.0,1240.7 L369.0,1241.7 L369.0,1242.7 L369.1,1243.5 L369.1,1244.2 L369.2,1244.8 L369.2,1245.3 L369.3,1245.8 L369.3,1246.1 L369.4,1246.4 L369.4,1246.6 L369.4,1246.8 L369.5,1246.9 L369.5,1247.0 L369.6,1247.0 L369.7,1247.0 L369.7,1246.9 L369.8,1246.8 L369.8,1246.6 L369.9,1246.4 L369.9,1246.1 L370.0,1245.8 L370.1,1245.3 L370.1,1244.8 L370.2,1244.2 L370.3,1243.5 L370.3,1242.7 L370.4,1241.7 L370.5,1240.7 L370.5,1239.6 L370.6,1238.3 L370.7,1236.9 L370.7,1235.3 L370.8,1233.6 L370.9,1231.8 L370.9,1229.8 L371.0,1227.6 L371.1,1225.3 L371.1,1222.8 L371.2,1220.1 L371.2,1217.3 L371.3,1214.2 L371.4,1211.0 L371.4,1207.5 L371.5,1203.9 L371.5,1200.0 L371.5,1199.1 L371.5,1198.1 L371.5,1197.1 L371.5,1196.1 L371.6,1195.1 L371.6,1194.0 L371.6,1193.0 L371.6,1191.9 L371.6,1190.8 L371.6,1189.6 L371.6,1188.5 L371.6,1187.3 L371.6,1186.1 L371.6,1184.9 L371.6,1183.7 L371.7,1182.4 L371.7,1181.2 L371.7,1179.9 L371.7,1178.6 L371.7,1177.3 L371.7,1175.9 L371.7,1174.6 L371.7,1173.2 L371.7,1171.8 L371.7,1170.5 L371.7,1169.0 L371.7,1167.6 L371.8,1166.2 L371.8,1164.7 L371.8,1163.3 L371.8,1161.8 L371.8,1160.3 L371.8,1158.8 L371.8,1157.3 L371.8,1155.7 L371.8,1154.2 L371.8,1152.7 L371.8,1151.1 L371.8,1149.5 L371.8,1147.9 L371.9,1146.3 L371.9,1144.7 L371.9,1143.1 L371.9,1141.5 L371.9,1139.9 L371.9,1138.2 L371.9,1136.6 L371.9,1134.9 L371.9,1133.3 L371.9,1131.6 L371.9,1129.9 L371.9,1128.2 L371.9,1126.6 L371.9,1124.9 L371.9,1123.2 L372.0,1121.5 L372.0,1119.7 L372.0,1118.0 L372.0,1116.3 L372.0,1114.6 L372.0,1112.9 L372.0,1111.1 L372.0,1109.4 L372.0,1107.7 L372.0,1105.9 L372.0,1104.2 L372.0,1102.4 L372.0,1100.7 L372.0,1099.0 L372.0,1097.2 L372.0,1095.5 L372.1,1093.7 L372.1,1092.0 L372.1,1090.2 L372.1,1088.5 L372.1,1086.7 L372.1,1085.0 L372.1,1083.3 L372.1,1081.5 L372.1,1079.8 L372.1,1078.1 L372.1,1076.3 L372.1,1074.6 L372.1,1072.9 L372.1,1071.2 L372.1,1069.5 L372.1,1067.8 L372.1,1066.1 L372.1,1064.4 L372.2,1062.7 L372.2,1061.0 L372.2,1059.3 L372.2,1057.6 L372.2,1056.0 L372.2,1054.3 L372.2,1052.7 L372.2,1051.0 L372.2,1049.4 L372.2,1047.8 L372.2,1046.2 L372.2,1044.5 L372.2,1042.9 L372.2,1041.4 L372.2,1039.8 L372.2,1038.2 L372.2,1036.7 L372.2,1035.1 L372.3,1033.6 L372.3,1032.1 L372.3,1030.6 L372.3,1029.1 L372.3,1027.6 L372.3,1026.1 L372.3,1024.7 L372.3,1023.2 L372.3,1021.8 L372.3,1020.4 L372.3,1019.0 L372.3,1017.6 L372.3,1016.2 L372.3,1014.9 L372.3,1013.5 L372.3,1012.2 L372.3,1010.9 L372.4,1009.6 L372.4,1008.4 L372.4,1007.1 L372.4,1005.9 L372.4,1004.7 L372.4,1003.5 L372.4,1002.3 L372.4,1001.1 L372.4,1000.0 L372.4,997.8 L372.4,995.5 L372.4,993.4 L372.5,991.3 L372.5,989.2 L372.5,987.2 L372.5,985.2 L372.5,983.2 L372.5,981.3 L372.5,979.4 L372.5,977.5 L372.6,975.7 L372.6,974.0 L372.6,972.2 L372.6,970.5 L372.6,968.8 L372.6,967.1 L372.6,965.5 L372.6,963.9 L372.7,962.3 L372.7,960.8 L372.7,959.3 L372.7,957.8 L372.7,956.3 L372.7,954.8 L372.7,953.4 L372.7,951.9 L372.8,950.5 L372.8,949.2 L372.8,947.8 L372.8,946.4 L372.8,945.1 L372.8,943.8 L372.8,942.4 L372.8,941.1 L372.8,939.8 L372.9,938.5 L372.9,937.2 L372.9,936.0 L372.9,934.7 L372.9,933.4 L372.9,932.2 L372.9,930.9 L372.9,929.6 L373.0,928.4 L373.0,927.1 L373.0,925.8 L373.0,924.6 L373.0,923.3 L373.0,922.0 L373.0,920.7 L373.0,919.4 L373.1,918.1 L373.1,916.8 L373.1,915.5 L373.1,914.2 L373.1,912.8 L373.1,911.5 L373.1,910.1 L373.1,908.7 L373.1,907.3 L373.2,905.9 L373.2,904.4 L373.2,903.0 L373.2,901.5 L373.2,900.0 L373.2,898.5 L373.2,897.0 L373.2,895.4 L373.2,893.9 L373.3,892.4 L373.3,890.8 L373.3,889.3 L373.3,887.8 L373.3,886.2 L373.3,884.7 L373.3,883.1 L373.3,881.6 L373.3,880.0 L373.3,878.5 L373.4,876.9 L373.4,875.3 L373.4,873.8 L373.4,872.2 L373.4,870.7 L373.4,869.1 L373.4,867.5 L373.4,866.0 L373.4,864.4 L373.4,862.9 L373.5,861.3 L373.5,859.7 L373.5,858.2 L373.5,856.6 L373.5,855.1 L373.5,853.5 L373.5,851.9 L373.5,850.4 L373.5,848.8 L373.5,847.3 L373.6,845.7 L373.6,844.2 L373.6,842.7 L373.6,841.1 L373.6,839.6 L373.6,838.1 L373.6,836.5 L373.6,835.0 L373.6,833.5 L373.6,832.0 L373.7,830.4 L373.7,828.9 L373.7,827.4 L373.7,825.9 L373.7,824.4 L373.7,823.0 L373.7,821.5 L373.7,820.0 L373.7,818.5 L373.8,817.1 L373.8,815.6 L373.8,814.1 L373.8,812.7 L373.8,811.3 L373.8,809.8 L373.8,808.4 L373.8,807.0 L373.8,805.6 L373.9,804.2 L373.9,802.8 L373.9,801.4 L373.9,800.0 L373.9,798.3 L373.9,796.6 L373.9,795.0 L374.0,793.3 L374.0,791.7 L374.0,790.0 L374.0,788.4 L374.0,786.7 L374.0,785.1 L374.0,783.4 L374.1,781.8 L374.1,780.2 L374.1,778.6 L374.1,777.0 L374.1,775.4 L374.1,773.8 L374.1,772.2 L374.2,770.6 L374.2,769.0 L374.2,767.4 L374.2,765.9 L374.2,764.3 L374.2,762.7 L374.2,761.2 L374.3,759.7 L374.3,758.1 L374.3,756.6 L374.3,755.1 L374.3,753.6 L374.3,752.1 L374.3,750.6 L374.4,749.1 L374.4,747.6 L374.4,746.1 L374.4,744.7 L374.4,743.2 L374.5,741.8 L374.5,740.3 L374.5,738.9 L374.5,737.5 L374.5,736.0 L374.6,734.6 L374.6,733.2 L374.6,731.9 L374.6,730.5 L374.7,729.1 L374.7,727.8 L374.7,726.4 L374.7,725.1 L374.8,723.7 L374.8,722.4 L374.8,721.1 L374.9,719.8 L374.9,718.5 L374.9,716.7 L375.0,714.9 L375.0,713.1 L375.1,711.3 L375.1,709.5 L375.2,707.8 L375.3,706.0 L375.3,704.3 L375.4,702.6 L375.4,700.9 L375.5,699.3 L375.5,697.6 L375.6,696.0 L375.7,694.3 L375.7,692.7 L375.8,691.1 L375.9,689.6 L375.9,688.0 L376.0,686.5 L376.1,684.9 L376.1,683.4 L376.2,682.0 L376.3,680.5 L376.3,679.1 L376.4,677.6 L376.5,676.2 L376.6,674.8 L376.7,673.5 L376.7,672.1 L376.8,670.8 L376.9,669.5 L377.0,668.2 L377.1,667.0 L377.1,665.7 L377.2,664.5 L377.3,663.3 L377.4,662.1 L377.5,661.0 L377.7,658.8 L377.9,656.6 L378.1,654.6 L378.3,652.7 L378.5,650.8 L378.7,649.0 L379.0,647.3 L379.2,645.7 L379.4,644.2 L379.7,642.7 L379.9,641.3 L380.1,640.0 L380.4,638.7 L380.6,637.4 L380.9,636.3 L381.1,635.1 L381.3,634.1 L381.6,633.0 L381.8,632.0 L382.5,629.1 L383.3,626.7 L384.0,624.9 L384.7,623.7 L385.4,623.2 L386.1,623.4 L386.5,623.9 L386.9,624.7 L387.2,625.8 L387.6,627.2 L387.9,628.8 L388.3,630.5 L388.6,632.5 L389.0,634.5 L389.3,636.7 L389.7,639.0 L389.9,640.2 L390.1,641.7 L390.2,643.2 L390.4,644.9 L390.6,646.7 L390.7,648.5 L390.9,650.4 L391.0,652.4 L391.2,654.3 L391.4,656.3 L391.5,658.1 L391.7,660.0 L391.9,661.7 L392.1,663.3 L392.3,664.8 L392.4,666.2 L392.6,667.3 L392.9,668.3 L393.1,669.0 L393.3,669.5 L393.7,669.7 L394.2,668.9 L394.7,667.6 L395.2,665.7 L395.7,663.5 L396.2,661.1 L396.7,658.7 L397.3,656.6 L397.8,654.8 L398.4,653.5 L399.0,653.0 L399.7,653.2 L400.4,654.0 L401.2,655.2 L402.0,656.8 L402.9,658.6 L403.7,660.6 L404.4,662.5 L405.1,664.3 L405.8,665.8 L406.3,667.0 L407.3,668.9 L407.7,669.8 L408.7,672.1 L409.1,673.1 L409.6,674.2 L410.2,675.4 L410.7,676.7 L411.4,678.1 L412.0,679.6 L412.7,681.2 L413.3,682.8 L414.0,684.4 L414.6,686.0 L415.3,687.7 L415.9,689.4 L416.4,690.7 L416.8,692.0 L417.2,693.5 L417.7,694.9 L418.1,696.4 L418.6,697.9 L419.1,699.4 L419.5,701.0 L419.9,702.5 L420.4,704.0 L420.9,705.5 L421.3,707.0 L421.8,708.4 L422.2,709.9 L422.7,711.2 L423.1,712.5 L423.7,714.2 L424.3,715.8 L424.9,717.4 L425.6,718.9 L426.2,720.4 L426.8,721.9 L427.4,723.3 L428.0,724.7 L428.6,726.0 L429.2,727.3 L429.8,728.6 L430.3,729.8 L431.1,731.5 L431.8,732.9 L432.5,734.2 L433.1,735.4 L433.8,736.6 L434.5,737.9 L435.2,739.5 L436.0,741.3 L436.5,742.5 L437.0,743.8 L437.5,745.2 L438.0,746.6 L438.5,748.1 L439.0,749.7 L439.6,751.2 L440.1,752.8 L440.6,754.4 L441.2,755.9 L441.7,757.4 L442.2,758.8 L442.8,760.2 L443.3,761.5 L444.0,763.1 L444.7,764.7 L445.4,766.1 L446.0,767.4 L446.7,768.7 L447.4,770.0 L448.1,771.3 L448.9,772.7 L449.7,774.3 L450.5,775.9 L451.1,777.1 L451.7,778.3 L452.3,779.6 L452.9,781.0 L453.6,782.4 L454.3,783.8 L454.9,785.2 L455.6,786.6 L456.3,788.1 L457.0,789.5 L457.7,790.9 L458.4,792.2 L459.2,793.6 L459.9,794.9 L460.6,796.1 L461.4,797.5 L462.3,798.9 L463.2,800.2 L464.0,801.5 L464.9,802.9 L465.8,804.1 L466.7,805.4 L467.6,806.6 L468.5,807.8 L469.4,808.9 L470.3,809.9 L471.2,811.0 L472.1,811.9 L473.4,813.2 L474.7,814.3 L476.0,815.4 L477.4,816.3 L478.7,817.2 L480.0,818.0 L481.2,818.7 L482.4,819.3 L483.6,819.9 L485.5,820.8 L487.3,821.6 L489.0,822.1 L490.6,822.3 L492.3,822.0 L493.5,821.5 L494.7,820.9 L495.8,820.1 L497.0,819.1 L498.2,817.9 L499.5,816.4 L500.9,814.8 L501.7,813.8 L502.5,812.8 L503.4,811.6 L504.3,810.5 L505.2,809.2 L506.1,807.9 L507.1,806.5 L508.0,805.1 L509.0,803.7 L509.9,802.2 L510.8,800.7 L511.7,799.1 L512.5,797.5 L513.1,796.2 L513.8,795.0 L514.4,793.6 L515.0,792.3 L515.6,790.9 L516.2,789.4 L516.8,788.0 L517.4,786.5 L518.0,785.0 L518.6,783.5 L519.1,782.0 L519.7,780.5 L520.3,779.0 L520.8,777.5 L521.4,776.0 L521.9,774.5 L522.5,773.0 L523.0,771.6 L523.5,770.2 L524.0,768.7 L524.5,767.3 L525.0,765.9 L525.5,764.4 L526.0,763.0 L526.5,761.5 L526.9,760.1 L527.4,758.6 L527.9,757.1 L528.4,755.7 L528.8,754.2 L529.3,752.8 L529.8,751.4 L530.2,749.9 L530.7,748.5 L531.2,747.1 L531.7,745.6 L532.2,744.1 L532.7,742.6 L533.2,741.2 L533.7,739.7 L534.2,738.2 L534.7,736.7 L535.2,735.3 L535.8,733.8 L536.3,732.4 L536.8,730.9 L537.3,729.5 L537.8,728.1 L538.3,726.6 L538.8,725.2 L539.3,723.9 L539.8,722.5 L540.4,721.0 L540.9,719.4 L541.5,717.9 L542.1,716.4 L542.6,715.0 L543.2,713.5 L543.8,712.1 L544.3,710.6 L544.9,709.2 L545.5,707.8 L546.1,706.4 L546.7,705.0 L547.3,703.6 L547.9,702.2 L548.5,700.9 L549.2,699.5 L549.9,698.0 L550.5,696.6 L551.2,695.2 L551.9,693.8 L552.7,692.5 L553.4,691.1 L554.1,689.8 L554.8,688.4 L555.6,687.1 L556.3,685.9 L557.1,684.6 L557.8,683.4 L558.6,682.2 L559.5,680.9 L560.4,679.6 L561.3,678.4 L562.2,677.2 L563.1,676.0 L564.1,674.9 L565.0,673.8 L566.0,672.7 L567.0,671.5 L568.0,670.3 L569.0,669.1 L570.1,667.8 L571.0,666.8 L571.9,665.7 L572.8,664.7 L573.7,663.7 L574.6,662.7 L575.6,661.6 L576.6,660.6 L577.5,659.5 L578.5,658.4 L579.5,657.2 L580.5,656.0 L581.5,654.7 L582.5,653.4 L583.5,652.0 L584.5,650.5 L585.2,649.4 L585.9,648.2 L586.7,647.0 L587.4,645.8 L588.1,644.5 L588.9,643.2 L589.6,641.9 L590.3,640.6 L591.1,639.2 L591.8,637.8 L592.6,636.4 L593.3,635.0 L594.1,633.5 L594.8,632.1 L595.5,630.6 L596.3,629.2 L597.0,627.7 L597.8,626.3 L598.5,624.8 L599.3,623.4 L600.0,622.0 L600.7,620.6 L601.4,619.3 L602.1,617.9 L602.8,616.4 L603.5,615.0 L604.2,613.5 L604.9,612.1 L605.6,610.6 L606.3,609.1 L607.0,607.7 L607.7,606.2 L608.4,604.8 L609.1,603.3 L609.8,601.9 L610.5,600.5 L611.2,599.1 L611.9,597.7 L612.6,596.4 L613.3,595.0 L614.0,593.8 L614.7,592.5 L615.4,591.3 L616.3,589.8 L617.2,588.3 L618.1,586.9 L619.0,585.5 L619.9,584.2 L620.8,582.8 L621.7,581.6 L622.6,580.3 L623.5,579.1 L624.4,577.9 L625.3,576.7 L626.2,575.5 L627.1,574.3 L628.0,573.2 L628.9,572.1 L629.8,570.9 L630.7,569.8 L631.7,568.5 L632.7,567.3 L633.8,566.1 L634.8,564.9 L635.8,563.7 L636.9,562.6 L637.9,561.4 L638.9,560.3 L639.9,559.2 L641.0,558.8 L642.0,556.5 L643.0,555.8 L644.1,555.6 L645.1,554.2 L646.1,552.2 L647.3,552.6 L648.5,550.1 L649.6,549.0 L650.8,548.8 L652.0,546.9 L653.2,545.8 L654.3,544.3 L655.5,543.3 L656.7,543.2 L657.9,541.6 L659.0,541.2 L660.2,539.8 L661.4,539.0 L662.7,538.9 L664.0,537.1 L665.2,536.2 L666.5,535.8 L667.8,533.7 L669.1,532.7 L670.4,533.2 L671.7,532.1 L672.9,530.3 L674.2,529.3 L675.5,529.5 L676.8,529.1 L678.2,526.9 L679.6,527.5 L681.0,526.6 L682.4,525.4 L683.8,524.4 L685.2,523.2 L686.6,522.4 L688.0,523.4 L689.4,521.5 L690.8,521.7 L692.2,520.3 L693.6,520.7 L695.0,519.6 L696.4,518.5 L697.8,517.7 L699.2,518.1 L700.5,516.4 L701.9,516.1 L703.3,516.1 L704.7,516.1 L706.1,515.2 L707.5,514.1 L709.1,514.7 L710.7,512.9 L712.4,512.0 L714.0,512.0 L715.7,511.8 L717.3,510.6 L718.8,510.4 L720.3,510.4 L721.7,510.4 L722.9,509.2 L724.9,509.1 L726.5,509.5 L727.9,509.3 L729.2,508.5 L730.6,508.7 L732.1,509.3 L733.6,509.8 L735.2,511.0 L736.7,512.0 L738.2,513.7 L739.2,512.7 L740.2,512.1 L741.1,509.0 L742.1,508.5 L743.1,506.6 L744.4,505.5 L745.9,503.5 L747.0,504.0 L748.3,501.6 L749.7,501.8 L751.1,501.5 L752.6,501.1 L754.2,500.3 L755.7,499.6 L757.2,499.3 L758.7,499.1 L760.0,497.7 L761.3,497.9 L763.1,498.1 L764.8,498.0 L766.4,497.4 L767.9,498.3 L769.3,498.6 L770.7,498.1 L772.0,497.8 L773.1,496.7 L774.1,496.0 L774.9,494.9 L775.7,492.7 L776.7,492.4 L778.0,491.8 L779.7,490.6 L780.8,489.8 L782.1,488.7 L783.4,488.9 L784.8,488.2 L786.4,487.5 L787.9,487.9 L789.6,486.1 L791.2,486.9 L792.9,485.3 L794.6,485.9 L796.3,485.3 L798.0,484.5 L799.7,485.0 L801.1,484.3 L802.6,484.2 L804.1,484.4 L805.6,482.9 L807.1,482.2 L808.7,482.4 L810.2,482.8 L811.8,481.6 L813.3,481.3 L814.9,482.3 L816.5,481.6 L818.0,480.9 L819.6,481.4 L821.2,480.0 L822.7,480.3 L824.2,479.1 L825.8,479.2 L827.3,479.5 L828.9,479.3 L830.4,478.9 L831.9,477.6 L833.5,477.5 L835.0,476.7 L836.6,476.0 L838.1,476.3 L839.6,476.5 L841.2,476.2 L842.7,475.6 L844.3,475.7 L845.8,474.2 L847.3,473.7 L848.8,474.0 L850.3,473.4 L851.7,473.0 L853.2,473.2 L854.6,473.3 L856.1,472.9 L857.5,472.3 L859.0,473.1 L860.5,473.2 L862.1,472.0 L863.7,471.2 L865.3,470.9 L867.0,472.3 L868.8,470.7 L870.2,471.8 L871.6,471.4 L873.0,470.9 L874.5,471.7 L875.9,470.2 L877.4,470.4 L879.0,470.9 L880.5,470.1 L882.1,471.5 L883.6,470.4 L885.2,470.2 L886.8,470.0 L888.5,471.0 L890.1,470.6 L891.7,470.9 L893.4,471.0 L895.0,471.2 L896.7,471.4 L898.3,470.9 L900.0,470.0 L901.4,470.4 L902.9,469.8 L904.3,469.5 L905.7,470.3 L907.2,470.7 L908.6,469.7 L910.1,469.8 L911.5,469.9 L913.0,470.5 L914.5,470.1 L915.9,470.3 L917.4,470.5 L918.9,469.8 L920.5,470.4 L922.0,470.6 L923.6,469.1 L925.1,470.5 L926.7,470.1 L928.4,469.0 L930.0,469.5 L931.7,469.8 L933.4,470.2 L935.1,469.2 L936.5,469.5 L937.9,470.0 L939.3,469.8 L940.8,470.0 L942.3,469.0 L943.9,469.3 L945.4,468.4 L947.0,469.3 L948.7,469.4 L950.3,469.0 L951.9,469.0 L953.6,468.0 L955.2,469.2 L956.9,469.3 L958.5,469.2 L960.2,468.3 L961.8,468.7 L963.4,467.7 L965.0,468.7 L966.6,468.5 L968.1,467.5 L969.6,467.0 L971.1,467.6 L972.5,467.7 L973.9,468.0 L975.3,467.4 L976.6,466.5 L977.8,467.9 L979.0,466.5 L980.1,467.7 L982.5,466.5 L984.7,466.7 L986.7,467.4 L988.5,466.2 L990.1,466.2 L991.6,466.8 L993.1,467.1 L994.4,467.3 L995.6,466.9 L996.8,467.3 L998.0,466.3 L999.2,467.0 L1000.4,465.3 L1002.2,465.0 L1003.8,464.9 L1005.3,463.6 L1006.6,463.6 L1007.8,462.7 L1009.0,461.9 L1010.3,462.1 L1011.6,461.6 L1012.8,461.6 L1014.1,462.4 L1015.3,464.3 L1016.5,465.6 L1017.7,465.5 L1019.0,467.9 L1020.2,469.1 L1021.5,469.0 L1022.9,469.5 L1024.3,468.9 L1025.7,469.2 L1027.2,468.6 L1028.6,468.1 L1030.1,466.3 L1031.6,467.3 L1033.2,465.8 L1034.8,465.0 L1036.4,465.4 L1037.8,464.9 L1039.2,464.7 L1040.5,465.1 L1041.9,464.1 L1043.3,465.1 L1044.8,465.0 L1046.4,466.2 L1048.1,466.4 L1050.1,465.4 L1052.2,466.0 L1053.4,465.4 L1054.6,466.1 L1055.9,466.9 L1057.2,467.2 L1058.5,466.5 L1059.9,466.4 L1061.3,466.3 L1062.8,467.2 L1064.3,467.9 L1065.8,466.6 L1067.4,467.9 L1069.0,466.7 L1070.6,467.2 L1072.3,467.3 L1074.1,468.3 L1075.9,467.7 L1077.7,467.9 L1079.6,468.4 L1081.5,467.6 L1082.8,468.8 L1084.1,467.7 L1085.4,468.4 L1086.8,468.0 L1088.2,467.9 L1089.7,468.6 L1091.2,468.4 L1092.7,468.4 L1094.2,468.5 L1095.8,468.7 L1097.3,468.0 L1098.9,468.1 L1100.5,468.9 L1102.1,469.0 L1103.7,468.8 L1105.3,469.4 L1106.9,468.9 L1108.6,469.4 L1110.2,468.2 L1111.7,469.2 L1113.3,469.3 L1114.9,469.4 L1116.4,468.3 L1118.0,468.3 L1119.5,469.3 L1120.9,468.0 L1122.4,469.4 L1123.8,469.1 L1125.2,467.7 L1126.5,467.8 L1128.3,468.6 L1130.0,467.6 L1131.7,467.2 L1133.3,468.4 L1134.9,467.4 L1136.5,467.9 L1138.1,466.5 L1139.6,466.8 L1141.1,467.1 L1142.6,465.7 L1144.1,465.8 L1145.6,466.4 L1147.0,466.6 L1148.5,466.5 L1149.9,464.7 L1151.4,465.2 L1152.8,465.4 L1154.3,464.7 L1155.8,464.8 L1157.3,463.7 L1158.8,463.2 L1160.3,463.1 L1161.8,462.8 L1163.4,463.5 L1164.9,463.2 L1166.4,463.1 L1168.0,462.1 L1169.5,461.9 L1171.1,461.7 L1172.6,462.6 L1174.1,462.7 L1175.7,462.3 L1177.2,460.6 L1178.7,460.3 L1180.3,461.7 L1181.8,460.6 L1183.3,461.0 L1184.9,460.0 L1186.4,460.0 L1188.0,459.9 L1189.5,459.6 L1191.0,459.8 L1192.6,458.6 L1194.1,459.7 L1195.6,459.8 L1197.2,458.5 L1198.7,458.9 L1200.2,459.3 L1201.8,458.6 L1203.3,458.1 L1204.9,458.0 L1206.4,458.5 L1207.9,457.6 L1209.5,459.1 L1211.0,458.9 L1212.5,458.7 L1214.1,458.9 L1215.6,458.4 L1217.1,458.0 L1218.7,458.3 L1220.2,458.2 L1221.8,459.0 L1223.3,458.7 L1224.8,457.7 L1226.4,458.9 L1227.9,458.6 L1229.4,458.7 L1231.0,458.8 L1232.6,458.1 L1234.2,459.0 L1235.8,459.0 L1237.4,458.8 L1239.0,458.9 L1240.7,459.0 L1242.3,458.4 L1243.9,459.1 L1245.5,458.0 L1247.1,458.5 L1248.7,458.9 L1250.2,458.2 L1251.8,458.9 L1253.3,459.5 L1254.8,459.7 L1256.2,459.1 L1257.7,460.6 L1259.1,460.3 L1260.4,459.9 L1261.7,460.7 L1263.5,460.9 L1265.3,461.2 L1267.0,461.4 L1268.7,462.9 L1270.3,462.8 L1271.8,463.4 L1273.3,464.0 L1274.8,465.0 L1276.2,463.8 L1277.6,465.5 L1279.0,466.3 L1280.3,466.0 L1281.6,466.9 L1282.9,466.9 L1284.2,467.8 L1285.8,468.8 L1287.3,469.1 L1288.7,470.2 L1290.1,472.2 L1291.4,472.4 L1292.7,473.1 L1293.9,474.8 L1295.2,475.0 L1296.4,476.6 L1297.6,476.9 L1298.8,478.2 L1300.0,477.8 L1301.2,479.6 L1302.4,480.6 L1303.6,481.5 L1304.8,482.5 L1305.9,483.6 L1307.1,484.6 L1308.2,485.7 L1309.3,486.8 L1310.3,488.0 L1311.3,489.3 L1312.3,490.6 L1313.3,492.0 L1314.0,493.2 L1314.8,494.5 L1315.4,495.8 L1316.1,497.2 L1316.7,498.6 L1317.4,500.1 L1318.0,501.6 L1318.6,503.1 L1319.2,504.6 L1319.7,506.1 L1320.3,507.6 L1320.9,509.1 L1321.5,510.5 L1322.0,511.9 L1322.6,513.3 L1323.3,514.8 L1323.9,516.3 L1324.6,517.7 L1325.2,519.1 L1325.8,520.5 L1326.5,521.9 L1327.1,523.3 L1327.7,524.7 L1328.3,526.1 L1328.9,527.5 L1329.5,528.9 L1330.0,530.4 L1330.6,531.9 L1331.1,533.4 L1331.6,534.9 L1332.1,536.4 L1332.6,538.0 L1333.1,539.6 L1333.6,541.2 L1334.0,542.8 L1334.5,544.4 L1335.0,546.0 L1335.4,547.5 L1335.9,549.0 L1336.4,550.5 L1336.8,551.9 L1337.3,553.2 L1338.0,555.0 L1338.6,556.9 L1339.3,558.8 L1339.9,560.6 L1340.6,562.4 L1341.3,564.0 L1341.9,565.4 L1342.6,566.5 L1343.2,567.4 L1343.9,567.9 L1345.0,568.1 L1346.1,567.5 L1347.2,566.3 L1348.4,564.6 L1349.5,562.4 L1350.6,559.9 L1351.0,558.8 L1351.4,557.6 L1351.9,556.3 L1352.3,554.9 L1352.7,553.4 L1353.1,551.9 L1353.5,550.3 L1354.0,548.6 L1354.4,547.0 L1354.8,545.3 L1355.2,543.6 L1355.6,542.0 L1356.0,540.4 L1356.5,538.8 L1356.9,537.3 L1357.3,535.9 L1357.8,534.3 L1358.2,532.8 L1358.7,531.2 L1359.2,529.6 L1359.6,528.1 L1360.1,526.6 L1360.5,525.1 L1361.0,523.6 L1361.4,522.2 L1361.9,520.8 L1362.4,519.5 L1362.9,518.2 L1363.4,517.0 L1363.9,515.9 L1364.8,514.1 L1365.7,512.4 L1366.7,510.9 L1367.6,509.5 L1368.6,508.3 L1369.7,507.2 L1370.8,506.2 L1371.9,505.3 L1373.3,504.4 L1374.9,503.6 L1376.6,502.9 L1378.3,502.4 L1379.9,502.2 L1381.3,502.2 L1382.6,502.6 L1383.6,503.4 L1384.4,504.5 L1385.0,506.0 L1385.6,507.6 L1386.3,509.5 L1387.0,511.4 L1387.9,513.3 L1388.5,514.4 L1389.2,515.6 L1389.9,516.8 L1390.7,518.1 L1391.5,519.4 L1392.3,520.8 L1393.1,522.1 L1394.0,523.5 L1394.8,524.9 L1395.6,526.3 L1396.4,527.8 L1397.2,529.2 L1397.9,530.6 L1398.6,532.0 L1399.3,533.4 L1400.1,534.9 L1400.8,536.4 L1401.5,538.0 L1402.2,539.5 L1402.9,541.0 L1403.6,542.5 L1404.4,543.9 L1405.1,545.3 L1405.8,546.6 L1406.5,547.9 L1407.4,549.5 L1408.3,551.0 L1409.2,552.5 L1410.2,553.9 L1411.1,555.2 L1412.0,556.5 L1412.9,557.8 L1413.9,559.0 L1414.8,560.1 L1415.8,561.2 L1417.1,562.5 L1418.5,563.6 L1419.9,564.7 L1421.3,565.7 L1422.7,566.6 L1424.1,567.5 L1425.3,568.4 L1426.5,569.2 L1428.1,570.6 L1429.4,572.0 L1430.6,573.3 L1431.8,574.2 L1433.2,574.5 L1434.4,574.2 L1435.7,573.4 L1437.0,572.3 L1438.3,571.1 L1439.7,570.0 L1441.1,569.2 L1442.6,568.9 L1444.1,568.9 L1445.7,569.0 L1447.3,569.0 L1448.9,568.7 L1450.5,567.9 L1451.4,567.2 L1452.4,566.3 L1453.3,565.3 L1454.3,564.2 L1455.2,563.0 L1456.2,561.7 L1457.1,560.3 L1458.0,558.9 L1458.9,557.4 L1459.8,555.9 L1460.5,554.7 L1461.1,553.5 L1461.7,552.2 L1462.4,550.9 L1463.0,549.6 L1463.6,548.2 L1464.2,546.7 L1464.8,545.3 L1465.4,543.8 L1466.0,542.2 L1466.6,540.6 L1467.2,538.9 L1467.8,537.2 L1468.2,535.9 L1468.7,534.5 L1469.1,533.1 L1469.6,531.6 L1470.0,530.2 L1470.5,529.0 L1470.9,525.8 L1471.4,526.1 L1471.8,522.8 L1472.2,521.9 L1472.7,519.6 L1473.1,518.8 L1473.6,517.5 L1474.0,514.8 L1474.5,515.3 L1474.9,512.8 L1475.4,511.8 L1475.8,510.8 L1476.6,508.4 L1477.4,506.6 L1478.2,505.9 L1478.9,504.3 L1479.7,502.5 L1480.5,502.3 L1481.3,500.2 L1482.1,498.5 L1482.9,497.9 L1483.8,496.3 L1484.8,495.2 L1485.7,495.2 L1486.7,493.1 L1487.6,493.0 L1488.6,491.5 L1489.7,488.8 L1490.7,489.7 L1491.9,488.6 L1493.1,485.7 L1494.4,486.5 L1495.8,484.6 L1497.2,483.8 L1498.7,484.0 L1500.3,481.6 L1501.8,481.5 L1503.4,481.8 L1504.9,480.9 L1506.4,479.9 L1508.1,480.8 L1509.7,480.5 L1511.4,480.1 L1513.1,479.3 L1514.7,480.7 L1516.4,480.7 L1518.0,480.4 L1519.7,480.3 L1521.4,481.5 L1523.0,480.7 L1524.7,481.5 L1526.3,482.1 L1528.0,481.7 L1529.7,481.5 L1531.3,482.4 L1533.0,482.4 L1534.4,483.6 L1535.8,483.6 L1537.2,485.1 L1538.6,485.6 L1539.9,485.8 L1541.4,485.4 L1542.9,485.8 L1544.5,488.2 L1546.3,488.6 L1547.6,488.7 L1549.0,488.7 L1550.5,489.0 L1552.0,490.4 L1553.6,490.6 L1555.2,491.2 L1556.8,491.8 L1558.5,492.6 L1560.1,491.9 L1561.6,492.6 L1563.2,494.7 L1564.7,495.1 L1566.1,495.5 L1567.7,494.3 L1569.3,494.9 L1570.8,495.9 L1572.3,496.8 L1573.7,497.8 L1575.1,497.2 L1576.6,498.7 L1578.0,498.3 L1579.4,498.9 L1580.8,500.9 L1582.3,501.3 L1583.7,502.2 L1585.1,502.4 L1586.5,503.5 L1587.9,503.7 L1589.3,504.9 L1590.7,506.7 L1592.1,507.8 L1593.4,506.9 L1594.8,507.9 L1596.0,510.2 L1597.2,510.5 L1598.4,511.5 L1600.2,511.3 L1601.7,512.7 L1603.1,513.2 L1604.4,515.2 L1605.8,514.9 L1607.3,516.1 L1609.1,517.3 L1610.5,516.0 L1612.0,516.7 L1613.6,517.2 L1615.2,517.6 L1616.9,516.4 L1618.6,516.2 L1620.3,515.6 L1622.0,517.2 L1623.7,515.3 L1625.3,515.3 L1626.9,516.3 L1628.6,516.0 L1630.3,516.4 L1632.0,515.5 L1633.7,516.4 L1635.3,514.8 L1637.0,515.0 L1638.5,515.8 L1640.0,514.4 L1641.4,514.8 L1643.2,515.4 L1644.9,514.8 L1646.4,513.4 L1647.9,512.6 L1649.3,512.7 L1650.7,513.4 L1652.2,512.7 L1653.5,512.5 L1654.9,514.4 L1656.2,514.8 L1657.5,516.4 L1658.9,517.4 L1660.2,518.4 L1661.6,518.3 L1662.9,520.2 L1664.1,520.0 L1665.3,521.0 L1666.5,522.2 L1667.7,524.4 L1668.9,525.4 L1670.1,525.1 L1671.3,526.5 L1672.5,527.7 L1673.7,528.8 L1674.8,529.9 L1675.8,530.9 L1676.9,531.6 L1678.0,533.5 L1679.0,535.1 L1680.1,535.6 L1681.2,537.4 L1682.3,537.9 L1683.3,538.1 L1684.4,540.5 L1685.5,541.8 L1686.6,541.5 L1687.7,542.0 L1688.8,544.2 L1689.9,545.3 L1691.0,546.4 L1692.1,548.3 L1693.2,548.7 L1694.2,550.2 L1695.2,549.6 L1696.3,552.0 L1697.3,553.8 L1698.4,553.5 L1699.4,554.8 L1700.3,557.6 L1701.3,559.3 L1702.2,558.9 L1703.0,561.4 L1703.8,561.7 L1704.5,564.5 L1705.2,565.8 L1705.8,566.5 L1706.3,568.1 L1706.9,570.9 L1707.4,571.8 L1707.9,573.8 L1708.5,574.2 L1709.1,575.0 L1710.5,576.9 L1712.0,577.8 L1713.5,578.2 L1715.1,578.5 L1716.7,578.6 L1718.5,578.4 L1720.2,578.3 L1721.9,578.5 L1723.2,579.0 L1724.6,579.6 L1725.9,580.5 L1727.3,581.5 L1728.6,582.7 L1729.6,583.7 L1730.5,584.9 L1731.5,586.2 L1732.4,587.6 L1733.4,589.0 L1734.3,590.5 L1735.3,592.0 L1736.1,593.4 L1737.0,594.8 L1737.8,596.3 L1738.6,597.8 L1739.5,599.3 L1740.3,600.8 L1741.2,602.3 L1742.0,603.7 L1742.8,605.0 L1743.7,606.3 L1744.5,607.5 L1745.4,608.7 L1746.3,610.0 L1747.1,611.2 L1748.0,612.5 L1748.8,613.8 L1749.5,615.0 L1750.3,616.3 L1751.0,617.6 L1751.8,618.9 L1752.5,620.2 L1753.3,621.5 L1754.0,622.9 L1754.8,624.2 L1755.5,625.6 L1756.2,627.0 L1757.0,628.3 L1757.7,629.7 L1758.5,631.1 L1759.2,632.6 L1760.0,634.0 L1760.7,635.4 L1761.5,636.8 L1762.2,638.2 L1763.0,639.6 L1763.7,641.0 L1764.5,642.3 L1765.2,643.7 L1766.0,645.1 L1766.7,646.5 L1767.5,647.9 L1768.2,649.3 L1769.0,650.8 L1769.7,652.1 L1770.4,653.5 L1771.1,654.9 L1771.8,656.3 L1772.5,657.7 L1773.1,659.1 L1773.8,660.6 L1774.5,662.0 L1775.1,663.6 L1775.7,665.1 L1776.2,666.5 L1776.7,668.1 L1777.2,669.6 L1777.7,671.2 L1778.1,672.8 L1778.6,674.4 L1779.0,675.9 L1779.4,677.5 L1779.9,679.1 L1780.3,680.6 L1780.7,682.0 L1781.2,683.6 L1781.7,685.1 L1782.1,686.5 L1782.5,687.8 L1783.0,689.2 L1783.4,690.7 L1783.9,692.3 L1784.4,694.1 L1784.9,696.2 L1785.2,697.4 L1785.5,698.7 L1785.8,700.1 L1786.1,701.5 L1786.4,703.0 L1786.7,704.5 L1787.1,706.1 L1787.4,707.7 L1787.7,709.3 L1788.1,710.9 L1788.4,712.6 L1788.8,714.3 L1789.2,715.9 L1789.6,717.6 L1790.0,719.2 L1790.4,720.8 L1790.8,722.4 L1791.2,723.9 L1791.7,725.4 L1792.1,726.9 L1792.6,728.4 L1793.1,729.9 L1793.6,731.4 L1794.1,732.9 L1794.6,734.4 L1795.1,735.9 L1795.6,737.4 L1796.1,738.9 L1796.7,740.4 L1797.2,742.0 L1797.7,743.5 L1798.1,745.0 L1798.6,746.5 L1799.1,748.0 L1799.5,749.5 L1799.9,751.0 L1800.3,752.5 L1800.7,754.0 L1801.1,755.5 L1801.5,757.0 L1801.8,758.5 L1802.2,760.0 L1802.5,761.5 L1802.9,763.0 L1803.2,764.5 L1803.6,766.0 L1803.9,767.5 L1804.3,769.0 L1804.6,770.5 L1804.9,772.0 L1805.3,773.5 L1805.6,775.0 L1806.0,776.5 L1806.4,778.0 L1806.7,779.5 L1807.1,781.0 L1807.4,782.5 L1807.8,784.0 L1808.1,785.5 L1808.4,787.0 L1808.8,788.5 L1809.1,790.0 L1809.5,791.5 L1809.8,793.0 L1810.2,794.5 L1810.5,796.0 L1810.9,797.5 L1811.3,799.0 L1811.6,800.5 L1812.0,802.0 L1812.4,803.5 L1812.8,805.0 L1813.2,806.5 L1813.6,808.1 L1814.0,809.6 L1814.4,811.1 L1814.8,812.7 L1815.3,814.2 L1815.7,815.8 L1816.1,817.3 L1816.6,818.9 L1817.0,820.4 L1817.4,821.9 L1817.9,823.4 L1818.3,824.9 L1818.7,826.3 L1819.1,827.7 L1819.6,829.1 L1820.0,830.5 L1820.5,832.1 L1821.0,833.7 L1821.6,835.3 L1822.1,836.9 L1822.7,838.4 L1823.3,839.9 L1823.8,841.4 L1824.4,842.9 L1824.9,844.3 L1825.4,845.7 L1825.9,847.1 L1826.4,848.5 L1826.8,849.7 L1827.2,851.0 L1827.6,852.2 L1828.1,854.0 L1828.5,855.6 L1828.9,857.0 L1829.2,858.3 L1829.4,859.6 L1829.6,860.9 L1829.9,862.4 L1830.2,864.1 L1830.5,866.0 L1830.7,867.2 L1830.9,868.5 L1831.2,869.8 L1831.4,871.1 L1831.6,872.5 L1831.9,874.0 L1832.1,875.5 L1832.4,877.0 L1832.6,878.5 L1832.9,880.1 L1833.1,881.7 L1833.4,883.3 L1833.6,885.0 L1833.9,886.6 L1834.2,888.3 L1834.4,890.0 L1834.6,891.4 L1834.8,892.8 L1835.0,894.2 L1835.2,895.7 L1835.4,897.2 L1835.6,898.7 L1835.8,900.2 L1836.1,901.7 L1836.3,903.3 L1836.5,904.8 L1836.7,906.4 L1836.9,908.0 L1837.1,909.5 L1837.3,911.1 L1837.5,912.6 L1837.7,914.1 L1837.9,915.6 L1838.1,917.1 L1838.2,918.6 L1838.4,920.0 L1838.6,921.6 L1838.8,923.2 L1838.9,924.8 L1839.1,926.4 L1839.3,927.9 L1839.4,929.4 L1839.6,930.9 L1839.7,932.4 L1839.8,933.8 L1840.0,935.3 L1840.1,936.9 L1840.3,938.4 L1840.4,939.9 L1840.5,941.5 L1840.7,943.1 L1840.8,944.8 L1841.0,946.5 L1841.1,947.9 L1841.3,949.4 L1841.4,950.8 L1841.5,952.3 L1841.6,953.8 L1841.7,955.3 L1841.9,956.9 L1842.0,958.4 L1842.1,960.0 L1842.2,961.5 L1842.4,963.1 L1842.5,964.7 L1842.6,966.3 L1842.7,967.9 L1842.9,969.5 L1843.0,971.1 L1843.2,972.6 L1843.3,974.2 L1843.5,975.8 L1843.6,977.3 L1843.8,978.9 L1844.0,980.5 L1844.2,982.0 L1844.3,983.6 L1844.5,985.2 L1844.7,986.9 L1844.9,988.5 L1845.1,990.1 L1845.3,991.8 L1845.5,993.4 L1845.7,995.0 L1846.0,996.6 L1846.2,998.2 L1846.4,999.8 L1846.6,1001.4 L1846.8,1002.9 L1847.0,1004.4 L1847.3,1005.9 L1847.5,1007.3 L1847.7,1008.7 L1847.9,1010.1 L1848.1,1011.4 L1848.4,1013.3 L1848.7,1015.1 L1849.0,1016.9 L1849.4,1018.5 L1849.7,1020.2 L1850.0,1021.7 L1850.3,1023.2 L1850.7,1024.7 L1851.0,1026.2 L1851.3,1027.6 L1851.6,1029.0 L1851.9,1030.3 L1852.2,1031.7 L1852.5,1033.0 L1852.9,1034.8 L1853.3,1036.5 L1853.6,1038.1 L1854.0,1039.6 L1854.3,1041.0 L1854.7,1042.5 L1855.0,1044.0 L1855.4,1045.5 L1855.8,1047.1 L1856.3,1048.8 L1856.7,1050.2 L1857.1,1051.6 L1857.5,1053.0 L1857.9,1054.5 L1858.3,1055.9 L1858.8,1057.4 L1859.2,1058.9 L1859.7,1060.5 L1860.2,1062.0 L1860.7,1063.5 L1861.1,1065.0 L1861.6,1066.5 L1862.1,1068.0 L1862.6,1069.5 L1863.1,1071.0 L1863.6,1072.4 L1864.1,1073.9 L1864.6,1075.4 L1865.1,1076.9 L1865.6,1078.4 L1866.1,1079.9 L1866.6,1081.4 L1867.2,1082.9 L1867.7,1084.3 L1868.2,1085.8 L1868.8,1087.3 L1869.4,1088.8 L1869.9,1090.3 L1870.5,1091.7 L1871.1,1093.2 L1871.7,1094.7 L1872.3,1096.2 L1872.9,1097.6 L1873.6,1099.1 L1874.2,1100.6 L1874.8,1102.1 L1875.4,1103.5 L1875.9,1105.0 L1876.5,1106.5 L1877.1,1108.0 L1877.6,1109.4 L1878.1,1110.9 L1878.7,1112.3 L1879.2,1113.7 L1879.7,1115.1 L1880.2,1116.6 L1880.7,1118.0 L1881.2,1119.5 L1881.8,1121.0 L1882.3,1122.6 L1882.8,1124.2 L1883.3,1125.8 L1883.7,1127.2 L1884.1,1128.6 L1884.6,1130.0 L1885.0,1131.5 L1885.4,1133.0 L1885.9,1134.5 L1886.3,1136.0 L1886.7,1137.5 L1887.1,1139.0 L1887.6,1140.6 L1888.0,1142.1 L1888.4,1143.7 L1888.8,1145.2 L1889.2,1146.8 L1889.6,1148.3 L1890.0,1149.8 L1890.4,1151.3 L1890.8,1152.8 L1891.2,1154.3 L1891.5,1155.7 L1891.9,1157.2 L1892.3,1158.7 L1892.7,1160.2 L1893.0,1161.7 L1893.4,1163.1 L1893.7,1164.6 L1894.1,1166.1 L1894.4,1167.6 L1894.8,1169.2 L1895.1,1170.7 L1895.5,1172.2 L1895.8,1173.8 L1896.1,1175.3 L1896.4,1176.7 L1896.7,1178.2 L1897.0,1179.6 L1897.3,1181.1 L1897.5,1182.5 L1897.8,1184.0 L1898.1,1185.5 L1898.3,1187.0 L1898.6,1188.5 L1898.9,1190.0 L1899.1,1191.6 L1899.4,1193.2 L1899.7,1194.8 L1899.9,1196.5 L1900.2,1198.2 L1900.5,1200.0 L1900.7,1201.4 L1900.9,1202.8 L1901.1,1204.2 L1901.3,1205.8 L1901.5,1207.3 L1901.8,1208.9 L1902.0,1210.5 L1902.2,1212.1 L1902.4,1213.8 L1902.6,1215.4 L1902.8,1217.1 L1903.0,1218.7 L1903.3,1220.4 L1903.5,1222.0 L1903.7,1223.6 L1903.9,1225.2 L1904.1,1226.7 L1904.3,1228.2 L1904.5,1229.7 L1904.7,1231.1 L1904.9,1232.5 L1905.1,1233.8 L1905.3,1235.0 L1905.6,1237.1 L1906.0,1239.2 L1906.3,1241.2 L1906.6,1243.1 L1907.0,1245.0 L1907.3,1246.8 L1907.6,1248.4 L1907.9,1250.0 L1908.2,1251.3 L1908.5,1252.5 L1908.8,1253.6 L1909.1,1254.4 L1909.4,1255.0 L1910.2,1255.5 L1910.9,1254.7 L1911.6,1252.9 L1912.3,1250.5 L1913.0,1248.0 L1913.3,1247.0 L1913.5,1246.0 L1913.7,1245.1 L1914.0,1244.1 L1914.2,1243.0 L1914.4,1241.8 L1914.6,1240.5 L1914.9,1239.0 L1915.1,1237.2 L1915.4,1235.1 L1915.7,1232.7 L1916.0,1230.0 L1916.1,1229.0 L1916.2,1227.9 L1916.4,1226.7 L1916.5,1225.6 L1916.7,1224.3 L1916.8,1223.0 L1916.9,1221.7 L1917.1,1220.4 L1917.2,1219.0 L1917.4,1217.5 L1917.5,1216.1 L1917.7,1214.6 L1917.9,1213.1 L1918.0,1211.5 L1918.2,1210.0 L1918.4,1208.4 L1918.5,1206.8 L1918.7,1205.2 L1918.9,1203.5 L1919.0,1201.9 L1919.2,1200.2 L1919.3,1198.6 L1919.5,1196.9 L1919.7,1195.2 L1919.8,1193.6 L1920.0,1191.9 L1920.2,1190.3 L1920.3,1188.6 L1920.5,1187.0 L1920.6,1185.4 L1920.8,1183.8 L1920.9,1182.2 L1921.0,1180.7 L1921.2,1179.1 L1921.3,1177.6 L1921.4,1176.1 L1921.6,1174.6 L1921.7,1173.1 L1921.8,1171.6 L1921.9,1170.0 L1922.0,1168.5 L1922.2,1167.0 L1922.3,1165.4 L1922.4,1163.9 L1922.5,1162.4 L1922.6,1160.8 L1922.7,1159.3 L1922.8,1157.7 L1922.9,1156.2 L1923.0,1154.7 L1923.1,1153.1 L1923.2,1151.6 L1923.3,1150.1 L1923.4,1148.5 L1923.5,1147.0 L1923.6,1145.5 L1923.7,1144.0 L1923.8,1142.5 L1923.9,1141.0 L1924.0,1139.5 L1924.1,1138.0 L1924.2,1136.5 L1924.3,1135.0 L1924.4,1133.6 L1924.5,1132.1 L1924.6,1130.7 L1924.7,1129.2 L1924.8,1127.8 L1924.9,1126.4 L1925.0,1125.0 L1925.1,1123.4 L1925.2,1121.8 L1925.3,1120.2 L1925.4,1118.6 L1925.5,1117.0 L1925.7,1115.4 L1925.8,1113.8 L1925.9,1112.3 L1926.0,1110.7 L1926.1,1109.2 L1926.2,1107.6 L1926.3,1106.1 L1926.4,1104.6 L1926.5,1103.1 L1926.6,1101.6 L1926.7,1100.1 L1926.8,1098.6 L1926.9,1097.1 L1927.0,1095.6 L1927.1,1094.2 L1927.2,1092.7 L1927.3,1091.3 L1927.4,1089.8 L1927.5,1088.4 L1927.5,1087.0 L1927.6,1085.6 L1927.7,1084.2 L1927.8,1082.8 L1927.9,1081.4 L1928.0,1080.0 L1928.1,1078.3 L1928.2,1076.6 L1928.3,1074.9 L1928.4,1073.2 L1928.5,1071.4 L1928.7,1069.7 L1928.8,1067.9 L1928.9,1066.1 L1929.0,1064.4 L1929.1,1062.7 L1929.2,1060.9 L1929.3,1059.3 L1929.4,1057.6 L1929.5,1056.0 L1929.6,1054.4 L1929.7,1052.9 L1929.8,1051.5 L1929.8,1050.1 L1929.9,1048.7 L1930.0,1047.5 L1930.1,1046.3 L1930.1,1045.2 L1930.2,1044.2 L1930.3,1043.3 L1930.3,1042.5" fill="none" stroke="#e2352f" stroke-width="7.3" stroke-linejoin="round" stroke-linecap="round"/>
<line x1="367.0" y1="1285.5" x2="366.8" y2="1309.7" stroke="#1a1a1a" stroke-width="2.8"/>
<path d="M367.0,1263.2 L359.7,1286.5 L374.3,1286.5 Z" fill="#0c0c0c"/>
<line x1="394.9" y1="453.8" x2="396.0" y2="1286.0" stroke="#4a4a52" stroke-width="2.8"/>
<path d="M394.9,431.8 L387.7,454.8 L402.1,454.8 Z" fill="#0c0c0c"/>
<path d="M493.4,662.3 L490.8,914.5 Q490.8,916.5 488.3,916.5" fill="none" stroke="#1a1a1a" stroke-width="2.8"/>
<path d="M493.4,640.8 L485.8,663.3 L501.0,663.3 Z" fill="#0c0c0c"/>
<path d="M1347.7,384.0 L1346.0,637.6 Q1346.0,639.6 1342.8,639.6" fill="none" stroke="#2a2c2c" stroke-width="2.8"/>
<path d="M1347.7,361.7 L1340.2,385.0 L1355.2,385.0 Z" fill="#0c0c0c"/>
<path d="M1437.3,457.2 L1435.6,706.3 Q1435.6,708.3 1432.6,708.3" fill="none" stroke="#333336" stroke-width="2.8"/>
<path d="M1437.3,430.8 L1430.1,458.2 L1444.5,458.2 Z" fill="#0c0c0c"/>
<line x1="1602.3" y1="280.1" x2="1602.3" y2="555.3" stroke="#1a1a1a" stroke-width="2.8"/>
<path d="M1602.3,256.3 L1595.3,281.1 L1609.3,281.1 Z" fill="#0c0c0c"/>
<line x1="1715.6" y1="418.3" x2="1714.8" y2="693.0" stroke="#1a1a1a" stroke-width="2.8"/>
<path d="M1715.6,396.6 L1708.0,419.3 L1723.2,419.3 Z" fill="#0c0c0c"/>
<line x1="1855.3" y1="1045.8" x2="1855.3" y2="1164.0" stroke="#444448" stroke-width="2.8"/>
<path d="M1855.3,1023.8 L1848.7,1046.8 L1861.9,1046.8 Z" fill="#0c0c0c"/>
<line x1="1910.0" y1="1285.5" x2="1910.0" y2="1321.0" stroke="#1a1a1a" stroke-width="2.8"/>
<path d="M1910.0,1261.6 L1902.6,1286.5 L1917.4,1286.5 Z" fill="#0c0c0c"/>
</svg>
</body></html>
